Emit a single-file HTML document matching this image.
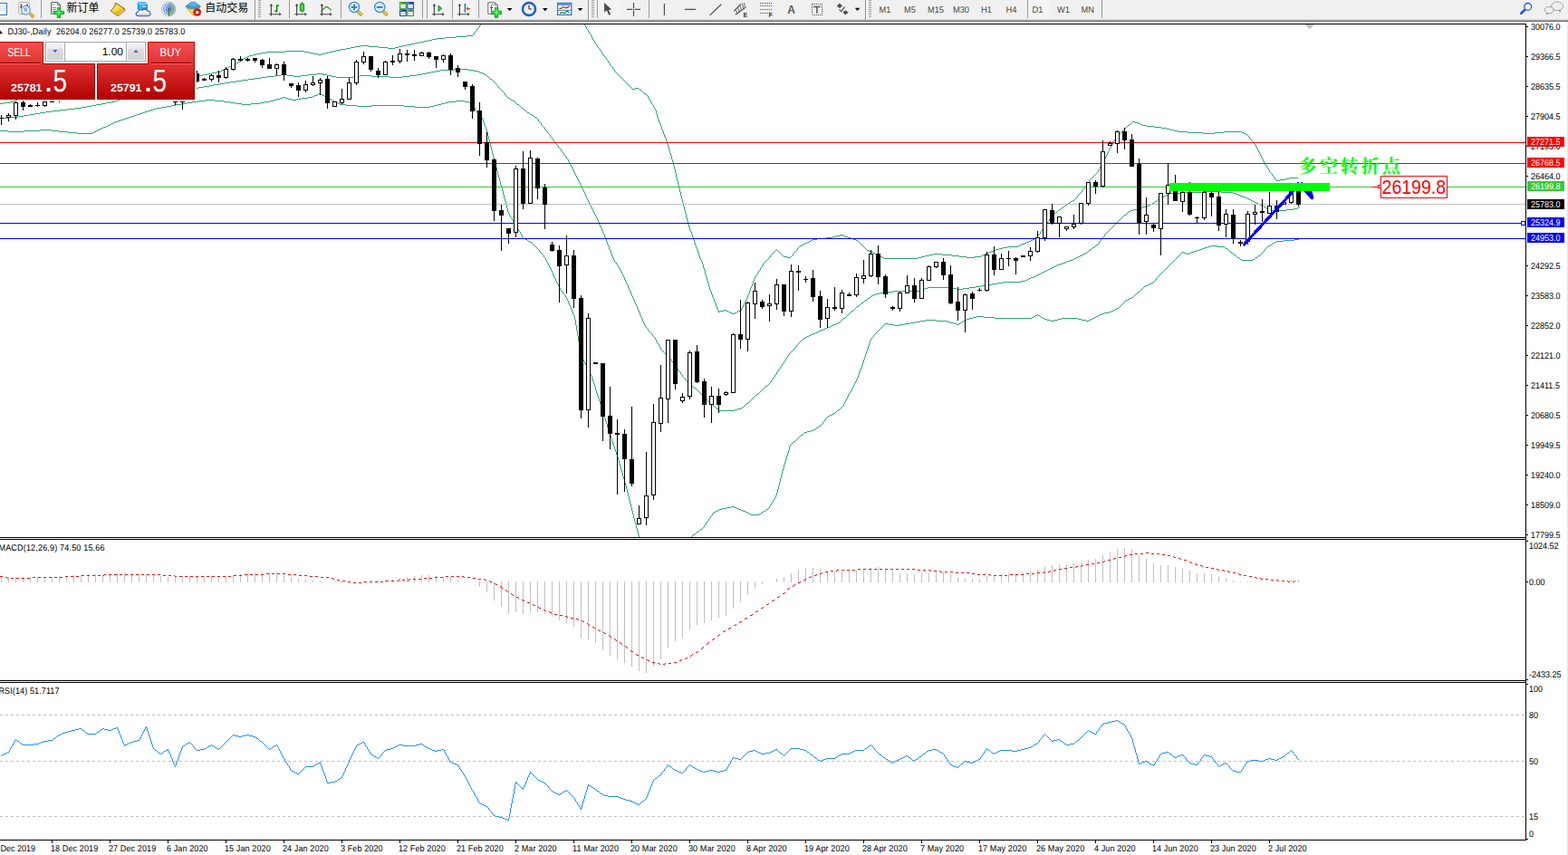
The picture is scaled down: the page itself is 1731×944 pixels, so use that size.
<!DOCTYPE html>
<html><head><meta charset="utf-8"><title>DJ30 Daily</title>
<style>html,body{margin:0;padding:0;background:#fff;overflow:hidden}svg{display:block}text{font-family:"Liberation Sans",sans-serif}</style>
</head><body>
<svg width="1731" height="944" viewBox="0 0 1731 944">
<defs>
<clipPath id="cm"><rect x="0" y="27" width="1684" height="566"/></clipPath>
<clipPath id="belowbar"><rect x="1400" y="211" width="100" height="40"/></clipPath>
<linearGradient id="gbtn" x1="0" y1="0" x2="0" y2="1"><stop offset="0" stop-color="#f85252"/><stop offset="1" stop-color="#de3232"/></linearGradient>
<linearGradient id="gprice" x1="0" y1="0" x2="0" y2="1"><stop offset="0" stop-color="#e23434"/><stop offset="1" stop-color="#b00000"/></linearGradient>
<linearGradient id="gspin" x1="0" y1="0" x2="0" y2="1"><stop offset="0" stop-color="#f4f4f4"/><stop offset="0.3" stop-color="#ebebeb"/><stop offset="0.34" stop-color="#dddddd"/><stop offset="1" stop-color="#d2d2d2"/></linearGradient>
</defs>
<rect x="0" y="0" width="1731" height="944" fill="#fff"/>

<g shape-rendering="crispEdges"><rect x="0" y="26" width="1685" height="1" fill="#000" /><rect x="1684" y="26" width="1" height="902" fill="#000" /><rect x="0" y="593" width="1685" height="1" fill="#000" /><rect x="0" y="595" width="1685" height="1" fill="#000" /><rect x="0" y="751" width="1685" height="1" fill="#000" /><rect x="0" y="753" width="1685" height="1" fill="#000" /><rect x="0" y="927" width="1685" height="1" fill="#000" /><g clip-path="url(#cm)"><path d="M468 45h5v1h-5zM865 283h4v1h-4zM972 283h2v1h-2zM1017 283h4v1h-4zM1059 283h8v1h-8zM1076 283h7v1h-7zM976 285h37v1h-37zM515 39h7v1h-7zM1375 148h2v1h-2zM887 269h2v1h-2zM1128 269h3v1h-3zM315 56h21v1h-21zM367 56h4v1h-4zM294 57h21v1h-21zM336 57h5v1h-5zM363 57h4v1h-4zM961 278h3v1h-3zM1092 278h2v1h-2zM387 52h5v1h-5zM418 52h10v1h-10zM436 52h4v1h-4zM883 271h2v1h-2zM1124 271h2v1h-2zM473 44h4v1h-4zM968 281h2v1h-2zM1026 281h4v1h-4zM1040 281h11v1h-11zM1085 281h2v1h-2zM1112 272h12v1h-12zM701 97h4v1h-4zM279 60h4v1h-4zM351 60h4v1h-4zM382 53h5v1h-5zM428 53h8v1h-8zM1311 146h17v1h-17zM1341 146h10v1h-10zM1371 146h2v1h-2zM458 47h5v1h-5zM263 68h2v1h-2zM806 345h2v1h-2zM811 345h2v1h-2zM1300 145h11v1h-11zM1351 145h20v1h-20zM11 112h4v1h-4zM229 81h5v1h-5zM482 42h9v1h-9zM1292 143h4v1h-4zM970 282h2v1h-2zM1021 282h5v1h-5zM1051 282h8v1h-8zM1083 282h2v1h-2zM398 50h9v1h-9zM444 50h5v1h-5zM869 284h4v1h-4zM974 284h2v1h-2zM1013 284h4v1h-4zM1067 284h9v1h-9zM283 59h5v1h-5zM346 59h5v1h-5zM355 59h4v1h-4zM275 61h4v1h-4zM1274 140h8v1h-8zM966 280h2v1h-2zM1030 280h10v1h-10zM1087 280h3v1h-3zM897 264h5v1h-5zM942 264h3v1h-3zM1140 264h2v1h-2zM919 261h4v1h-4zM933 261h3v1h-3zM1099 275h4v1h-4zM491 41h12v1h-12zM1176 226h2v1h-2zM912 262h7v1h-7zM936 262h3v1h-3zM251 74h2v1h-2zM1328 147h13v1h-13zM1373 147h2v1h-2zM17 110h2v1h-2zM1423 196h10v1h-10zM1419 197h4v1h-4zM269 64h2v1h-2zM793 344h2v1h-2zM804 344h2v1h-2zM813 344h2v1h-2zM1253 135h4v1h-4zM891 267h2v1h-2zM1133 267h3v1h-3zM895 265h2v1h-2zM945 265h2v1h-2zM1138 265h2v1h-2zM1266 139h8v1h-8zM1107 273h5v1h-5zM371 55h5v1h-5zM957 276h2v1h-2zM1097 276h2v1h-2zM288 58h6v1h-6zM341 58h5v1h-5zM359 58h4v1h-4zM219 83h5v1h-5zM245 77h2v1h-2zM239 79h4v1h-4zM1250 134h3v1h-3zM266 66h2v1h-2zM711 103h2v1h-2zM255 72h2v1h-2zM795 343h4v1h-4zM802 343h2v1h-2zM815 343h2v1h-2zM1184 221h2v1h-2zM923 260h4v1h-4zM931 260h2v1h-2zM902 263h10v1h-10zM939 263h3v1h-3zM1142 263h2v1h-2zM1409 199h4v1h-4zM503 40h12v1h-12zM1413 198h6v1h-6zM964 279h2v1h-2zM1090 279h2v1h-2zM1182 222h2v1h-2zM959 277h2v1h-2zM1094 277h3v1h-3zM1257 136h2v1h-2zM1296 144h4v1h-4zM477 43h5v1h-5zM249 75h2v1h-2zM449 49h5v1h-5zM261 69h2v1h-2zM893 266h2v1h-2zM1136 266h2v1h-2zM214 84h5v1h-5zM392 51h6v1h-6zM407 51h11v1h-11zM440 51h4v1h-4zM885 270h2v1h-2zM1126 270h2v1h-2zM1165 234h2v1h-2zM808 346h3v1h-3zM799 342h3v1h-3zM817 342h2v1h-2zM463 46h5v1h-5zM0 114h4v1h-4zM706 99h2v1h-2zM271 63h2v1h-2zM454 48h4v1h-4zM698 98h3v1h-3zM4 113h7v1h-7zM257 71h2v1h-2zM259 70h2v1h-2zM1282 141h6v1h-6zM1172 229h2v1h-2zM927 259h4v1h-4zM889 268h2v1h-2zM1131 268h2v1h-2zM247 76h2v1h-2zM15 111h2v1h-2zM224 82h5v1h-5zM1288 142h4v1h-4zM1103 274h4v1h-4zM253 73h2v1h-2zM376 54h6v1h-6zM234 80h5v1h-5zM1179 224h2v1h-2zM1245 138h2v1h-2zM1261 138h5v1h-5zM273 62h2v1h-2zM1169 231h2v1h-2zM243 78h2v1h-2zM1259 137h2v1h-2zM737 159h1v3h-1zM1226 161h1v2h-1zM1386 160h1v2h-1zM656 45h1v2h-1zM772 282h1v3h-1zM850 282h1v2h-1zM873 283h1v1h-1zM773 285h1v2h-1zM848 285h1v1h-1zM652 38h1v2h-1zM733 148h1v3h-1zM1235 148h1v1h-1zM767 268h1v3h-1zM950 269h1v1h-1zM778 299h1v4h-1zM837 299h1v2h-1zM663 56h1v1h-1zM664 57h1v2h-1zM770 276h1v3h-1zM854 278h1v1h-1zM860 278h1v1h-1zM877 278h1v1h-1zM761 251h1v3h-1zM1151 252h1v1h-1zM755 228h1v4h-1zM1171 230h1v1h-1zM660 52h1v1h-1zM768 271h1v3h-1zM952 271h1v1h-1zM655 44h1v1h-1zM771 279h1v3h-1zM851 281h1v1h-1zM863 281h1v1h-1zM875 280h1v2h-1zM882 272h1v1h-1zM953 272h1v1h-1zM750 208h1v4h-1zM1195 209h1v1h-1zM697 97h1v1h-1zM734 151h1v2h-1zM1233 151h1v1h-1zM1379 151h1v2h-1zM666 60h1v2h-1zM685 85h1v1h-1zM661 53h1v1h-1zM732 145h1v3h-1zM1237 146h1v1h-1zM715 106h1v2h-1zM757 236h1v4h-1zM1162 237h1v2h-1zM657 47h1v2h-1zM786 325h1v3h-1zM826 324h1v2h-1zM671 67h1v2h-1zM1238 145h1v1h-1zM743 179h1v4h-1zM1216 180h1v2h-1zM1396 180h1v2h-1zM718 111h1v2h-1zM745 187h1v4h-1zM1213 186h1v2h-1zM1400 186h1v2h-1zM681 81h1v1h-1zM654 42h1v2h-1zM746 191h1v5h-1zM1208 193h1v1h-1zM1404 192h1v2h-1zM731 143h1v2h-1zM1240 143h1v1h-1zM864 282h1v1h-1zM874 282h1v1h-1zM659 50h1v2h-1zM849 284h1v1h-1zM665 59h1v1h-1zM760 248h1v3h-1zM1153 249h1v2h-1zM782 313h1v4h-1zM830 313h1v3h-1zM783 317h1v3h-1zM829 316h1v2h-1zM730 140h1v3h-1zM1243 140h1v1h-1zM852 280h1v1h-1zM862 280h1v1h-1zM765 262h1v3h-1zM739 166h1v3h-1zM1223 167h1v2h-1zM1389 166h1v2h-1zM764 259h1v3h-1zM1145 260h1v2h-1zM769 274h1v2h-1zM857 275h1v1h-1zM880 274h1v2h-1zM956 275h1v1h-1zM724 122h1v3h-1zM741 172h1v4h-1zM1220 173h1v2h-1zM1392 172h1v2h-1zM742 176h1v3h-1zM1218 177h1v1h-1zM1394 176h1v2h-1zM653 40h1v2h-1zM787 328h1v2h-1zM825 326h1v3h-1zM847 286h1v1h-1zM756 232h1v4h-1zM1167 233h1v1h-1zM754 224h1v4h-1zM1144 262h1v1h-1zM676 74h1v2h-1zM1236 147h1v1h-1zM735 153h1v3h-1zM1231 153h1v1h-1zM1380 153h1v1h-1zM713 104h1v1h-1zM1230 154h1v2h-1zM1381 154h1v1h-1zM749 204h1v4h-1zM1197 206h1v2h-1zM714 105h1v1h-1zM752 216h1v4h-1zM1189 216h1v2h-1zM717 110h1v1h-1zM747 196h1v4h-1zM1205 196h1v1h-1zM1407 196h1v2h-1zM1204 197h1v1h-1zM687 87h1v1h-1zM669 64h1v2h-1zM1232 152h1v1h-1zM688 88h1v1h-1zM728 135h1v2h-1zM1249 135h1v1h-1zM766 265h1v3h-1zM948 267h1v1h-1zM1211 190h1v1h-1zM1402 190h1v1h-1zM776 292h1v4h-1zM841 293h1v2h-1zM729 137h1v3h-1zM1244 139h1v1h-1zM779 303h1v3h-1zM834 304h1v2h-1zM751 212h1v4h-1zM1192 213h1v1h-1zM709 101h1v1h-1zM693 93h1v1h-1zM723 120h1v2h-1zM740 169h1v3h-1zM1221 171h1v2h-1zM1391 170h1v2h-1zM1219 175h1v2h-1zM1161 239h1v1h-1zM881 273h1v1h-1zM954 273h1v1h-1zM759 244h1v4h-1zM1156 245h1v1h-1zM662 54h1v2h-1zM856 276h1v1h-1zM858 276h1v1h-1zM879 276h1v1h-1zM1196 208h1v1h-1zM683 83h1v1h-1zM1390 168h1v2h-1zM1168 232h1v1h-1zM678 77h1v2h-1zM736 156h1v3h-1zM1229 156h1v1h-1zM1383 156h1v1h-1zM785 322h1v3h-1zM679 79h1v1h-1zM1215 182h1v2h-1zM1397 182h1v1h-1zM744 183h1v4h-1zM789 333h1v2h-1zM822 333h1v2h-1zM727 132h1v3h-1zM1209 192h1v1h-1zM788 330h1v3h-1zM823 331h1v2h-1zM1155 246h1v2h-1zM524 35h1v1h-1zM650 35h1v2h-1zM775 289h1v3h-1zM842 291h1v2h-1zM1154 248h1v1h-1zM1234 149h1v2h-1zM1378 150h1v1h-1zM836 301h1v2h-1zM1224 165h1v2h-1zM670 66h1v1h-1zM1222 169h1v2h-1zM1194 210h1v2h-1zM265 67h1v1h-1zM674 72h1v1h-1zM696 96h1v1h-1zM793 343h1v1h-1zM753 220h1v4h-1zM1202 199h1v2h-1zM780 306h1v4h-1zM833 306h1v2h-1zM1174 228h1v1h-1zM530 27h1v1h-1zM645 27h1v1h-1zM526 32h1v2h-1zM648 32h1v1h-1zM1206 195h1v1h-1zM1406 195h1v1h-1zM1198 205h1v1h-1zM792 341h1v2h-1zM818 341h1v1h-1zM1227 159h1v2h-1zM1385 159h1v1h-1zM828 318h1v3h-1zM784 320h1v2h-1zM1203 198h1v1h-1zM1408 198h1v1h-1zM853 279h1v1h-1zM861 279h1v1h-1zM876 279h1v1h-1zM748 200h1v4h-1zM725 125h1v4h-1zM855 277h1v1h-1zM859 277h1v1h-1zM878 277h1v1h-1zM1217 178h1v2h-1zM1395 178h1v2h-1zM1212 188h1v2h-1zM1401 188h1v2h-1zM1164 235h1v1h-1zM1248 136h1v1h-1zM1239 144h1v1h-1zM790 335h1v3h-1zM821 335h1v2h-1zM658 49h1v1h-1zM672 69h1v1h-1zM1187 219h1v1h-1zM529 28h1v2h-1zM646 28h1v2h-1zM947 266h1v1h-1zM528 30h1v1h-1zM647 30h1v2h-1zM1191 214h1v1h-1zM684 84h1v1h-1zM951 270h1v1h-1zM738 162h1v4h-1zM1387 162h1v2h-1zM758 240h1v4h-1zM1160 240h1v1h-1zM1163 236h1v1h-1zM843 290h1v1h-1zM719 113h1v2h-1zM763 256h1v3h-1zM1148 256h1v2h-1zM1186 220h1v1h-1zM19 109h1v1h-1zM716 108h1v2h-1zM1207 194h1v1h-1zM1405 194h1v1h-1zM523 36h1v2h-1zM1175 227h1v1h-1zM781 310h1v3h-1zM831 310h1v3h-1zM1228 157h1v2h-1zM1384 157h1v2h-1zM668 63h1v1h-1zM692 92h1v1h-1zM1393 174h1v2h-1zM1181 223h1v1h-1zM1190 215h1v1h-1zM705 98h1v1h-1zM1201 201h1v1h-1zM840 295h1v1h-1zM1382 155h1v1h-1zM1150 253h1v2h-1zM268 65h1v1h-1zM694 94h1v1h-1zM695 95h1v1h-1zM1200 202h1v2h-1zM673 70h1v2h-1zM1388 164h1v2h-1zM1398 183h1v2h-1zM1242 141h1v1h-1zM1146 259h1v1h-1zM949 268h1v1h-1zM525 34h1v1h-1zM649 33h1v2h-1zM677 76h1v1h-1zM827 321h1v3h-1zM1210 191h1v1h-1zM1403 191h1v1h-1zM682 82h1v1h-1zM1241 142h1v1h-1zM527 31h1v1h-1zM651 37h1v1h-1zM955 274h1v1h-1zM762 254h1v2h-1zM1149 255h1v1h-1zM1225 163h1v2h-1zM832 308h1v2h-1zM1188 218h1v1h-1zM690 90h1v1h-1zM1193 212h1v1h-1zM675 73h1v1h-1zM1214 184h1v2h-1zM1399 185h1v1h-1zM1152 251h1v1h-1zM1178 225h1v1h-1zM680 80h1v1h-1zM722 118h1v2h-1zM1159 241h1v1h-1zM791 338h1v3h-1zM819 339h1v2h-1zM777 296h1v3h-1zM839 296h1v2h-1zM667 62h1v1h-1zM1158 242h1v2h-1zM522 38h1v1h-1zM720 115h1v1h-1zM824 329h1v2h-1zM1377 149h1v1h-1zM726 129h1v3h-1zM820 337h1v2h-1zM774 287h1v2h-1zM846 287h1v1h-1zM686 86h1v1h-1zM1199 204h1v1h-1zM708 100h1v1h-1zM835 303h1v1h-1zM838 298h1v1h-1zM845 288h1v1h-1zM1147 258h1v1h-1zM721 116h1v2h-1zM1247 137h1v1h-1zM844 289h1v1h-1zM689 89h1v1h-1zM710 102h1v1h-1zM691 91h1v1h-1zM1157 244h1v1h-1z" fill="#2aa866"/><path d="M1261 228h4v1h-4zM1395 228h2v1h-2zM1134 308h2v1h-2zM1306 212h22v1h-22zM1348 212h13v1h-13zM0 130h9v1h-9zM1184 286h2v1h-2zM1251 231h4v1h-4zM1400 231h2v1h-2zM1420 231h8v1h-8zM1107 311h20v1h-20zM986 321h30v1h-30zM74 120h9v1h-9zM577 120h2v1h-2zM1077 316h6v1h-6zM288 85h7v1h-7zM371 85h19v1h-19zM430 85h14v1h-14zM1289 214h2v1h-2zM1364 214h3v1h-3zM486 77h15v1h-15zM517 77h6v1h-6zM955 331h2v1h-2zM904 365h2v1h-2zM303 83h7v1h-7zM317 83h7v1h-7zM332 83h8v1h-8zM361 83h5v1h-5zM397 83h13v1h-13zM452 83h8v1h-8zM96 117h5v1h-5zM476 79h5v1h-5zM528 79h2v1h-2zM310 82h7v1h-7zM340 82h9v1h-9zM356 82h5v1h-5zM460 82h6v1h-6zM535 82h2v1h-2zM1255 230h3v1h-3zM1398 230h2v1h-2zM1428 230h4v1h-4zM90 118h6v1h-6zM471 80h5v1h-5zM530 80h3v1h-3zM1165 293h2v1h-2zM295 84h8v1h-8zM324 84h8v1h-8zM366 84h5v1h-5zM390 84h7v1h-7zM410 84h20v1h-20zM444 84h8v1h-8zM1210 270h2v1h-2zM112 114h5v1h-5zM219 96h6v1h-6zM254 90h7v1h-7zM32 126h6v1h-6zM585 126h2v1h-2zM1176 289h2v1h-2zM1248 232h3v1h-3zM1402 232h18v1h-18zM101 116h5v1h-5zM1170 291h3v1h-3zM1258 229h3v1h-3zM1432 229h2v1h-2zM1198 279h2v1h-2zM242 92h6v1h-6zM845 426h2v1h-2zM127 111h3v1h-3zM566 111h2v1h-2zM1019 319h2v1h-2zM1056 319h7v1h-7zM975 322h11v1h-11zM83 119h7v1h-7zM925 356h2v1h-2zM1095 313h6v1h-6zM1275 222h2v1h-2zM1383 222h2v1h-2zM818 450h2v1h-2zM895 369h2v1h-2zM964 325h3v1h-3zM891 371h2v1h-2zM794 453h17v1h-17zM911 362h2v1h-2zM1272 224h2v1h-2zM1387 224h2v1h-2zM1143 304h2v1h-2zM231 94h5v1h-5zM225 95h6v1h-6zM1328 211h20v1h-20zM1385 223h2v1h-2zM1163 294h2v1h-2zM1280 219h2v1h-2zM1377 219h2v1h-2zM1159 296h2v1h-2zM481 78h5v1h-5zM523 78h5v1h-5zM50 123h7v1h-7zM1101 312h6v1h-6zM940 343h2v1h-2zM766 428h2v1h-2zM1202 276h2v1h-2zM824 445h2v1h-2zM1021 318h3v1h-3zM1050 318h6v1h-6zM1063 318h7v1h-7zM1375 218h2v1h-2zM1278 220h2v1h-2zM1379 220h2v1h-2zM1181 287h3v1h-3zM734 390h2v1h-2zM1151 300h2v1h-2zM1291 213h15v1h-15zM1361 213h3v1h-3zM281 86h7v1h-7zM1265 227h3v1h-3zM1393 227h2v1h-2zM1024 317h26v1h-26zM1070 317h7v1h-7zM971 323h4v1h-4zM1083 315h6v1h-6zM38 125h6v1h-6zM1132 309h2v1h-2zM962 326h2v1h-2zM26 127h6v1h-6zM587 127h2v1h-2zM1285 216h2v1h-2zM1369 216h3v1h-3zM1283 217h2v1h-2zM1372 217h3v1h-3zM1268 226h2v1h-2zM1391 226h2v1h-2zM20 128h6v1h-6zM57 122h9v1h-9zM1089 314h6v1h-6zM791 451h2v1h-2zM814 451h4v1h-4zM44 124h6v1h-6zM582 124h2v1h-2zM1016 320h3v1h-3zM920 358h3v1h-3zM501 76h16v1h-16zM1145 303h2v1h-2zM1141 305h2v1h-2zM1194 281h2v1h-2zM349 81h7v1h-7zM466 81h5v1h-5zM533 81h2v1h-2zM267 88h7v1h-7zM1190 283h2v1h-2zM261 89h6v1h-6zM913 361h3v1h-3zM66 121h8v1h-8zM1270 225h2v1h-2zM1389 225h2v1h-2zM248 91h6v1h-6zM916 360h2v1h-2zM106 115h6v1h-6zM571 115h2v1h-2zM215 97h4v1h-4zM1381 221h2v1h-2zM123 112h4v1h-4zM1153 299h2v1h-2zM1173 290h3v1h-3zM1167 292h3v1h-3zM236 93h6v1h-6zM9 129h11v1h-11zM590 129h2v1h-2zM923 357h2v1h-2zM1161 295h2v1h-2zM1246 233h2v1h-2zM893 370h2v1h-2zM909 363h2v1h-2zM1206 273h2v1h-2zM931 351h2v1h-2zM1287 215h2v1h-2zM1367 215h2v1h-2zM1241 237h2v1h-2zM760 423h2v1h-2zM1155 298h2v1h-2zM902 366h2v1h-2zM946 338h2v1h-2zM1127 310h5v1h-5zM1178 288h3v1h-3zM967 324h4v1h-4zM918 359h2v1h-2zM835 435h2v1h-2zM951 334h2v1h-2zM897 368h3v1h-3zM889 372h2v1h-2zM811 452h3v1h-3zM1196 280h2v1h-2zM274 87h7v1h-7zM541 87h2v1h-2zM1192 282h2v1h-2zM1188 284h2v1h-2zM130 110h2v1h-2zM564 110h2v1h-2zM1149 301h2v1h-2zM958 329h2v1h-2zM561 108h2v1h-2zM117 113h6v1h-6zM1138 306h3v1h-3zM906 364h3v1h-3zM1147 302h2v1h-2zM785 446h2v1h-2zM900 367h2v1h-2zM1186 285h2v1h-2zM1136 307h2v1h-2zM1157 297h2v1h-2zM887 373h2v1h-2zM652 227h1v2h-1zM1434 228h1v1h-1zM689 306h1v3h-1zM645 212h1v2h-1zM592 130h1v1h-1zM703 338h1v3h-1zM944 340h1v1h-1zM677 285h1v2h-1zM654 231h1v2h-1zM691 311h1v2h-1zM695 320h1v2h-1zM724 375h1v2h-1zM885 375h1v1h-1zM693 315h1v3h-1zM539 85h1v1h-1zM643 208h1v2h-1zM646 214h1v3h-1zM700 331h1v3h-1zM716 365h1v1h-1zM537 83h1v1h-1zM574 117h1v1h-1zM603 144h1v1h-1zM746 404h1v2h-1zM862 404h1v1h-1zM769 430h1v1h-1zM841 430h1v1h-1zM653 229h1v2h-1zM575 118h1v1h-1zM614 159h1v1h-1zM682 293h1v2h-1zM538 84h1v1h-1zM628 178h1v2h-1zM671 270h1v2h-1zM772 433h1v1h-1zM838 433h1v1h-1zM570 114h1v1h-1zM550 95h1v2h-1zM661 245h1v3h-1zM1231 247h1v1h-1zM755 417h1v1h-1zM853 417h1v2h-1zM545 90h1v1h-1zM740 396h1v1h-1zM867 396h1v2h-1zM639 200h1v2h-1zM679 289h1v1h-1zM665 255h1v2h-1zM1222 256h1v1h-1zM636 194h1v2h-1zM754 416h1v1h-1zM854 416h1v1h-1zM573 116h1v1h-1zM680 290h1v2h-1zM1397 229h1v1h-1zM674 277h1v3h-1zM547 92h1v1h-1zM764 426h1v1h-1zM694 318h1v2h-1zM696 322h1v3h-1zM576 119h1v1h-1zM710 355h1v2h-1zM692 313h1v2h-1zM649 221h1v2h-1zM790 450h1v1h-1zM720 369h1v2h-1zM662 248h1v2h-1zM1229 249h1v1h-1zM697 325h1v2h-1zM721 371h1v1h-1zM698 327h1v2h-1zM961 327h1v1h-1zM664 252h1v3h-1zM1226 252h1v1h-1zM714 362h1v1h-1zM650 223h1v2h-1zM688 304h1v2h-1zM549 94h1v1h-1zM601 141h1v2h-1zM709 352h1v3h-1zM930 352h1v1h-1zM644 210h1v2h-1zM929 353h1v1h-1zM1274 223h1v1h-1zM789 449h1v1h-1zM820 449h1v1h-1zM648 219h1v2h-1zM684 296h1v2h-1zM616 161h1v2h-1zM581 123h1v1h-1zM1233 245h1v1h-1zM620 167h1v1h-1zM663 250h1v2h-1zM1228 250h1v1h-1zM705 343h1v2h-1zM637 196h1v2h-1zM742 399h1v1h-1zM865 399h1v2h-1zM739 394h1v2h-1zM868 395h1v1h-1zM638 198h1v2h-1zM756 418h1v2h-1zM852 419h1v1h-1zM843 428h1v1h-1zM673 275h1v2h-1zM768 429h1v1h-1zM842 429h1v1h-1zM727 380h1v2h-1zM879 381h1v2h-1zM784 445h1v1h-1zM702 336h1v2h-1zM948 337h1v1h-1zM731 387h1v1h-1zM874 387h1v1h-1zM647 217h1v2h-1zM1282 218h1v1h-1zM678 287h1v2h-1zM871 390h1v2h-1zM778 439h1v1h-1zM831 439h1v1h-1zM686 300h1v2h-1zM1204 275h1v1h-1zM723 373h1v2h-1zM886 374h1v1h-1zM540 86h1v1h-1zM741 397h1v2h-1zM763 425h1v1h-1zM847 425h1v1h-1zM728 382h1v2h-1zM878 383h1v1h-1zM618 164h1v1h-1zM750 410h1v1h-1zM858 410h1v1h-1zM622 169h1v2h-1zM1232 246h1v1h-1zM584 125h1v1h-1zM690 309h1v2h-1zM668 262h1v2h-1zM1216 263h1v1h-1zM748 407h1v2h-1zM859 408h1v2h-1zM758 421h1v1h-1zM851 420h1v2h-1zM954 332h1v1h-1zM759 422h1v1h-1zM850 422h1v1h-1zM770 431h1v1h-1zM840 431h1v1h-1zM651 225h1v2h-1zM589 128h1v1h-1zM704 341h1v2h-1zM942 342h1v1h-1zM580 122h1v1h-1zM669 264h1v3h-1zM1215 264h1v2h-1zM660 243h1v2h-1zM1235 243h1v1h-1zM711 357h1v2h-1zM751 411h1v2h-1zM857 411h1v2h-1zM725 377h1v2h-1zM882 378h1v1h-1zM632 186h1v2h-1zM726 379h1v1h-1zM881 379h1v1h-1zM729 384h1v2h-1zM877 384h1v1h-1zM776 437h1v1h-1zM833 437h1v1h-1zM687 302h1v2h-1zM765 427h1v1h-1zM844 427h1v1h-1zM554 100h1v1h-1zM675 280h1v3h-1zM543 88h1v1h-1zM676 283h1v2h-1zM544 89h1v1h-1zM713 361h1v1h-1zM579 121h1v1h-1zM706 345h1v3h-1zM938 345h1v1h-1zM939 344h1v1h-1zM546 91h1v1h-1zM712 359h1v2h-1zM656 235h1v2h-1zM1243 236h1v1h-1zM630 182h1v2h-1zM631 184h1v2h-1zM777 438h1v1h-1zM832 438h1v1h-1zM551 97h1v1h-1zM1201 277h1v1h-1zM641 204h1v2h-1zM745 403h1v1h-1zM863 402h1v2h-1zM1277 221h1v1h-1zM771 432h1v1h-1zM839 432h1v1h-1zM568 112h1v1h-1zM685 298h1v2h-1zM1209 271h1v1h-1zM860 407h1v1h-1zM866 398h1v1h-1zM666 257h1v2h-1zM1220 258h1v1h-1zM681 292h1v1h-1zM943 341h1v1h-1zM548 93h1v1h-1zM600 140h1v1h-1zM563 109h1v1h-1zM604 145h1v2h-1zM683 295h1v1h-1zM655 233h1v2h-1zM715 363h1v2h-1zM672 272h1v3h-1zM1227 251h1v1h-1zM640 202h1v2h-1zM708 350h1v2h-1zM667 259h1v3h-1zM1219 259h1v2h-1zM558 105h1v1h-1zM559 106h1v1h-1zM1214 266h1v1h-1zM1234 244h1v1h-1zM657 237h1v2h-1zM849 423h1v1h-1zM773 434h1v1h-1zM837 434h1v1h-1zM602 143h1v1h-1zM658 239h1v2h-1zM1238 240h1v1h-1zM1244 235h1v1h-1zM617 163h1v1h-1zM717 366h1v1h-1zM733 389h1v1h-1zM872 389h1v1h-1zM1245 234h1v1h-1zM937 346h1v1h-1zM670 267h1v3h-1zM1213 267h1v2h-1zM884 376h1v1h-1zM699 329h1v2h-1zM957 330h1v1h-1zM936 347h1v1h-1zM736 391h1v1h-1zM634 190h1v2h-1zM1200 278h1v1h-1zM774 435h1v1h-1zM1221 257h1v1h-1zM775 436h1v1h-1zM834 436h1v1h-1zM214 98h1v1h-1zM552 98h1v1h-1zM701 334h1v2h-1zM553 99h1v1h-1zM608 151h1v1h-1zM619 165h1v2h-1zM719 368h1v1h-1zM722 372h1v1h-1zM753 414h1v2h-1zM855 414h1v2h-1zM1230 248h1v1h-1zM793 452h1v1h-1zM1208 272h1v1h-1zM744 402h1v1h-1zM960 328h1v1h-1zM781 442h1v1h-1zM828 442h1v1h-1zM1240 238h1v1h-1zM876 385h1v1h-1zM633 188h1v2h-1zM788 448h1v1h-1zM821 448h1v1h-1zM606 148h1v1h-1zM610 153h1v2h-1zM621 168h1v1h-1zM625 173h1v2h-1zM861 405h1v2h-1zM747 406h1v1h-1zM779 440h1v1h-1zM830 440h1v1h-1zM783 444h1v1h-1zM826 444h1v1h-1zM598 138h1v1h-1zM945 339h1v1h-1zM569 113h1v1h-1zM883 377h1v1h-1zM1212 269h1v1h-1zM642 206h1v2h-1zM953 333h1v1h-1zM557 103h1v2h-1zM627 176h1v2h-1zM757 420h1v1h-1zM1205 274h1v1h-1zM1239 239h1v1h-1zM1223 255h1v1h-1zM950 335h1v1h-1zM555 101h1v1h-1zM823 446h1v1h-1zM928 354h1v1h-1zM707 348h1v2h-1zM935 348h1v1h-1zM718 367h1v1h-1zM1225 253h1v1h-1zM738 393h1v1h-1zM869 393h1v2h-1zM780 441h1v1h-1zM829 441h1v1h-1zM743 400h1v2h-1zM752 413h1v1h-1zM856 413h1v1h-1zM635 192h1v2h-1zM594 132h1v2h-1zM605 147h1v1h-1zM1224 254h1v1h-1zM782 443h1v1h-1zM827 443h1v1h-1zM560 107h1v1h-1zM933 350h1v1h-1zM596 135h1v1h-1zM787 447h1v1h-1zM822 447h1v1h-1zM607 149h1v2h-1zM611 155h1v1h-1zM737 392h1v1h-1zM870 392h1v1h-1zM732 388h1v1h-1zM873 388h1v1h-1zM864 401h1v1h-1zM609 152h1v1h-1zM949 336h1v1h-1zM613 157h1v2h-1zM623 171h1v1h-1zM624 172h1v1h-1zM749 409h1v1h-1zM762 424h1v1h-1zM848 424h1v1h-1zM1217 262h1v1h-1zM659 241h1v2h-1zM1237 241h1v1h-1zM730 386h1v1h-1zM875 386h1v1h-1zM615 160h1v1h-1zM626 175h1v1h-1zM629 180h1v2h-1zM927 355h1v1h-1zM934 349h1v1h-1zM595 134h1v1h-1zM1236 242h1v1h-1zM593 131h1v1h-1zM597 136h1v2h-1zM1218 261h1v1h-1zM599 139h1v1h-1zM880 380h1v1h-1zM612 156h1v1h-1zM556 102h1v1h-1z" fill="#2aa866"/><path d="M1271 312h2v1h-2zM189 116h5v1h-5zM382 116h12v1h-12zM410 116h36v1h-36zM479 116h4v1h-4zM1330 273h3v1h-3zM212 112h7v1h-7zM247 112h7v1h-7zM292 112h6v1h-6zM369 112h2v1h-2zM495 112h8v1h-8zM513 112h5v1h-5zM1321 276h3v1h-3zM888 477h3v1h-3zM1333 272h3v1h-3zM1344 272h8v1h-8zM219 111h8v1h-8zM237 111h10v1h-10zM298 111h4v1h-4zM367 111h2v1h-2zM503 111h10v1h-10zM765 590h2v1h-2zM309 108h3v1h-3zM315 108h3v1h-3zM333 108h7v1h-7zM362 108h2v1h-2zM139 130h3v1h-3zM1143 348h2v1h-2zM1146 348h2v1h-2zM1212 348h2v1h-2zM136 131h3v1h-3zM1078 349h8v1h-8zM1141 349h2v1h-2zM1210 349h2v1h-2zM200 114h6v1h-6zM260 114h7v1h-7zM277 114h10v1h-10zM373 114h2v1h-2zM487 114h4v1h-4zM1389 282h2v1h-2zM1022 353h12v1h-12zM1065 353h2v1h-2zM1156 353h4v1h-4zM1164 353h4v1h-4zM1194 353h5v1h-5zM1202 353h2v1h-2zM9 145h17v1h-17zM65 145h10v1h-10zM104 145h2v1h-2zM797 561h5v1h-5zM813 561h2v1h-2zM1016 354h6v1h-6zM1034 354h12v1h-12zM1063 354h2v1h-2zM1160 354h4v1h-4zM1199 354h3v1h-3zM227 110h10v1h-10zM302 110h3v1h-3zM322 110h5v1h-5zM184 117h5v1h-5zM394 117h16v1h-16zM446 117h12v1h-12zM475 117h4v1h-4zM773 584h2v1h-2zM1067 352h3v1h-3zM1153 352h3v1h-3zM1168 352h4v1h-4zM1190 352h4v1h-4zM1204 352h2v1h-2zM981 358h6v1h-6zM993 358h6v1h-6zM1056 358h2v1h-2zM925 452h2v1h-2zM1070 351h4v1h-4zM1098 351h41v1h-41zM1151 351h2v1h-2zM1172 351h18v1h-18zM1206 351h2v1h-2zM918 457h2v1h-2zM85 147h17v1h-17zM1369 286h2v1h-2zM1383 286h2v1h-2zM1214 347h2v1h-2zM75 146h10v1h-10zM102 146h2v1h-2zM44 143h13v1h-13zM108 143h2v1h-2zM1336 271h8v1h-8zM1400 271h2v1h-2zM1305 278h2v1h-2zM1315 278h3v1h-3zM1358 278h2v1h-2zM1263 316h2v1h-2zM583 266h2v1h-2zM1409 266h8v1h-8zM194 115h6v1h-6zM267 115h10v1h-10zM375 115h7v1h-7zM483 115h4v1h-4zM802 560h5v1h-5zM811 560h2v1h-2zM127 134h3v1h-3zM1327 274h3v1h-3zM1353 274h2v1h-2zM1231 341h2v1h-2zM788 565h2v1h-2zM823 565h2v1h-2zM841 565h2v1h-2zM829 568h9v1h-9zM1005 356h5v1h-5zM1049 356h4v1h-4zM1060 356h2v1h-2zM1219 345h5v1h-5zM790 564h2v1h-2zM820 564h3v1h-3zM843 564h2v1h-2zM1010 355h6v1h-6zM1046 355h3v1h-3zM891 476h4v1h-4zM1265 315h2v1h-2zM173 119h5v1h-5zM1074 350h4v1h-4zM1086 350h12v1h-12zM1139 350h2v1h-2zM1149 350h2v1h-2zM1208 350h2v1h-2zM1307 279h3v1h-3zM1313 279h2v1h-2zM876 487h2v1h-2zM206 113h6v1h-6zM254 113h6v1h-6zM287 113h5v1h-5zM371 113h2v1h-2zM491 113h4v1h-4zM518 113h3v1h-3zM157 124h3v1h-3zM347 105h3v1h-3zM356 105h2v1h-2zM1371 287h12v1h-12zM1318 277h3v1h-3zM977 357h4v1h-4zM999 357h6v1h-6zM1053 357h3v1h-3zM1058 357h2v1h-2zM987 359h6v1h-6zM169 120h4v1h-4zM160 123h3v1h-3zM121 137h2v1h-2zM148 127h3v1h-3zM117 139h2v1h-2zM807 559h4v1h-4zM114 140h3v1h-3zM1366 284h2v1h-2zM1386 284h2v1h-2zM1256 322h2v1h-2zM0 144h9v1h-9zM26 144h18v1h-18zM57 144h8v1h-8zM106 144h2v1h-2zM827 567h2v1h-2zM838 567h2v1h-2zM792 563h2v1h-2zM818 563h2v1h-2zM1362 281h2v1h-2zM1310 280h3v1h-3zM1417 265h12v1h-12zM305 109h4v1h-4zM318 109h4v1h-4zM327 109h6v1h-6zM364 109h2v1h-2zM1405 268h2v1h-2zM920 456h2v1h-2zM178 118h6v1h-6zM458 118h17v1h-17zM345 106h2v1h-2zM358 106h2v1h-2zM580 264h2v1h-2zM1429 264h5v1h-5zM898 474h2v1h-2zM1245 330h2v1h-2zM825 566h2v1h-2zM794 562h3v1h-3zM815 562h3v1h-3zM846 562h2v1h-2zM133 132h3v1h-3zM1233 340h2v1h-2zM151 126h3v1h-3zM110 142h2v1h-2zM1402 270h2v1h-2zM125 135h2v1h-2zM769 587h2v1h-2zM1324 275h3v1h-3zM1229 342h2v1h-2zM585 267h2v1h-2zM1407 267h2v1h-2zM901 472h2v1h-2zM142 129h3v1h-3zM112 141h2v1h-2zM312 107h3v1h-3zM340 107h5v1h-5zM360 107h2v1h-2zM145 128h3v1h-3zM1269 313h2v1h-2zM166 121h3v1h-3zM1249 328h2v1h-2zM1247 329h2v1h-2zM1243 331h2v1h-2zM904 470h2v1h-2zM352 103h2v1h-2zM123 136h2v1h-2zM130 133h3v1h-3zM350 104h2v1h-2zM354 104h2v1h-2zM895 475h3v1h-3zM1216 346h3v1h-3zM1267 314h2v1h-2zM1227 343h2v1h-2zM163 122h3v1h-3zM154 125h3v1h-3zM578 263h2v1h-2zM884 480h2v1h-2zM119 138h2v1h-2zM916 458h2v1h-2zM1224 344h3v1h-3zM914 459h2v1h-2zM615 312h1v2h-1zM522 116h1v2h-1zM685 515h1v4h-1zM864 517h1v3h-1zM592 273h1v1h-1zM1352 273h1v1h-1zM1398 273h1v1h-1zM595 276h1v2h-1zM1356 276h1v1h-1zM1395 276h1v2h-1zM672 475h1v3h-1zM687 522h1v4h-1zM863 520h1v4h-1zM591 272h1v1h-1zM1399 272h1v1h-1zM704 587h1v4h-1zM546 178h1v3h-1zM641 386h1v3h-1zM957 385h1v3h-1zM688 526h1v3h-1zM862 524h1v4h-1zM532 130h1v2h-1zM618 318h1v2h-1zM1260 319h1v1h-1zM633 347h1v2h-1zM639 377h1v5h-1zM960 376h1v3h-1zM677 490h1v3h-1zM873 490h1v1h-1zM634 349h1v4h-1zM1148 349h1v1h-1zM563 238h1v2h-1zM660 437h1v3h-1zM936 436h1v2h-1zM521 114h1v2h-1zM600 282h1v2h-1zM1301 282h1v1h-1zM1364 282h1v1h-1zM635 353h1v6h-1zM537 143h1v3h-1zM697 560h1v4h-1zM848 561h1v1h-1zM680 499h1v3h-1zM869 500h1v3h-1zM663 446h1v3h-1zM931 446h1v2h-1zM366 110h1v1h-1zM703 583h1v4h-1zM692 540h1v4h-1zM858 540h1v4h-1zM976 358h1v1h-1zM665 452h1v4h-1zM1300 283h1v1h-1zM1365 283h1v1h-1zM1388 283h1v1h-1zM666 456h1v3h-1zM603 287h1v2h-1zM1295 288h1v1h-1zM538 146h1v4h-1zM558 222h1v4h-1zM602 285h1v2h-1zM1297 286h1v1h-1zM1145 347h1v1h-1zM606 293h1v2h-1zM1290 293h1v1h-1zM699 568h1v4h-1zM784 570h1v2h-1zM638 371h1v6h-1zM963 372h1v1h-1zM642 389h1v4h-1zM956 388h1v3h-1zM689 529h1v4h-1zM861 528h1v4h-1zM590 271h1v1h-1zM596 278h1v1h-1zM1394 278h1v1h-1zM617 316h1v2h-1zM551 196h1v4h-1zM849 559h1v2h-1zM662 443h1v3h-1zM932 444h1v2h-1zM693 544h1v4h-1zM857 544h1v3h-1zM630 339h1v3h-1zM1235 339h1v1h-1zM569 248h1v2h-1zM628 335h1v2h-1zM1239 335h1v1h-1zM637 365h1v6h-1zM964 370h1v2h-1zM684 512h1v3h-1zM865 513h1v4h-1zM533 132h1v3h-1zM593 274h1v1h-1zM1397 274h1v1h-1zM573 255h1v1h-1zM698 564h1v4h-1zM609 299h1v2h-1zM1284 299h1v1h-1zM648 405h1v2h-1zM950 406h1v2h-1zM676 487h1v3h-1zM874 489h1v1h-1zM786 567h1v2h-1zM632 344h1v3h-1zM1062 355h1v1h-1zM653 415h1v3h-1zM947 414h1v3h-1zM700 572h1v4h-1zM783 572h1v1h-1zM616 314h1v2h-1zM524 119h1v2h-1zM860 532h1v4h-1zM675 484h1v3h-1zM878 486h1v1h-1zM561 234h1v2h-1zM620 321h1v1h-1zM1258 321h1v1h-1zM597 279h1v1h-1zM1304 279h1v1h-1zM1360 279h1v1h-1zM1393 279h1v1h-1zM658 431h1v3h-1zM938 433h1v1h-1zM961 374h1v2h-1zM562 236h1v2h-1zM968 366h1v1h-1zM640 382h1v4h-1zM958 382h1v3h-1zM565 241h1v2h-1zM674 481h1v3h-1zM881 483h1v1h-1zM527 124h1v1h-1zM647 403h1v2h-1zM951 403h1v3h-1zM554 207h1v4h-1zM696 556h1v4h-1zM850 557h1v2h-1zM1296 287h1v1h-1zM1357 277h1v1h-1zM671 472h1v3h-1zM900 473h1v1h-1zM959 379h1v3h-1zM557 219h1v3h-1zM636 359h1v6h-1zM975 359h1v1h-1zM695 552h1v4h-1zM852 554h1v2h-1zM547 181h1v4h-1zM681 502h1v3h-1zM868 503h1v4h-1zM629 337h1v2h-1zM1237 337h1v1h-1zM550 193h1v3h-1zM690 533h1v3h-1zM571 251h1v2h-1zM526 123h1v1h-1zM610 301h1v3h-1zM1280 303h1v1h-1zM572 253h1v2h-1zM575 258h1v2h-1zM540 154h1v4h-1zM612 306h1v2h-1zM1277 306h1v1h-1zM682 505h1v3h-1zM534 135h1v3h-1zM543 166h1v4h-1zM529 126h1v2h-1zM939 431h1v2h-1zM668 462h1v3h-1zM911 462h1v2h-1zM535 138h1v2h-1zM1261 318h1v1h-1zM654 418h1v3h-1zM945 419h1v2h-1zM560 230h1v4h-1zM705 591h1v2h-1zM763 592h1v1h-1zM622 324h1v1h-1zM1254 324h1v1h-1zM702 579h1v4h-1zM776 582h1v1h-1zM657 427h1v4h-1zM940 429h1v2h-1zM536 140h1v3h-1zM691 536h1v4h-1zM859 536h1v4h-1zM601 284h1v1h-1zM1299 284h1v1h-1zM621 322h1v2h-1zM553 204h1v3h-1zM845 563h1v1h-1zM599 281h1v1h-1zM1302 281h1v1h-1zM1391 281h1v1h-1zM973 361h1v1h-1zM598 280h1v1h-1zM1303 280h1v1h-1zM1361 280h1v1h-1zM1392 280h1v1h-1zM872 491h1v2h-1zM582 265h1v1h-1zM587 268h1v1h-1zM645 399h1v2h-1zM952 400h1v3h-1zM523 118h1v1h-1zM1262 317h1v1h-1zM933 442h1v2h-1zM856 547h1v2h-1zM1298 285h1v1h-1zM1368 285h1v1h-1zM1385 285h1v1h-1zM882 482h1v1h-1zM544 170h1v4h-1zM686 519h1v3h-1zM1238 336h1v1h-1zM771 586h1v1h-1zM656 424h1v3h-1zM943 423h1v2h-1zM669 465h1v3h-1zM908 466h1v2h-1zM626 330h1v2h-1zM787 566h1v1h-1zM840 566h1v1h-1zM942 425h1v2h-1zM670 468h1v4h-1zM907 468h1v1h-1zM1276 307h1v2h-1zM974 360h1v1h-1zM649 407h1v2h-1zM661 440h1v3h-1zM934 440h1v2h-1zM935 438h1v2h-1zM1283 300h1v1h-1zM867 507h1v3h-1zM930 448h1v1h-1zM589 270h1v1h-1zM664 449h1v3h-1zM929 449h1v1h-1zM624 326h1v2h-1zM1252 326h1v1h-1zM594 275h1v1h-1zM1355 275h1v1h-1zM1396 275h1v1h-1zM875 488h1v1h-1zM631 342h1v2h-1zM659 434h1v3h-1zM937 434h1v2h-1zM650 409h1v2h-1zM949 408h1v3h-1zM971 363h1v1h-1zM627 332h1v3h-1zM1240 334h1v1h-1zM969 365h1v1h-1zM777 580h1v2h-1zM644 397h1v2h-1zM953 397h1v3h-1zM955 391h1v3h-1zM574 256h1v2h-1zM588 269h1v1h-1zM1404 269h1v1h-1zM577 262h1v1h-1zM853 552h1v2h-1zM531 129h1v1h-1zM559 226h1v4h-1zM679 496h1v3h-1zM870 497h1v3h-1zM772 585h1v1h-1zM555 211h1v4h-1zM530 128h1v1h-1zM608 297h1v2h-1zM1285 298h1v1h-1zM667 459h1v3h-1zM912 461h1v1h-1zM871 493h1v4h-1zM576 260h1v2h-1zM541 158h1v4h-1zM924 453h1v1h-1zM910 464h1v1h-1zM605 291h1v2h-1zM1292 291h1v1h-1zM651 411h1v2h-1zM948 411h1v3h-1zM966 368h1v1h-1zM1289 294h1v1h-1zM564 240h1v1h-1zM568 246h1v2h-1zM604 289h1v2h-1zM1294 289h1v1h-1zM922 455h1v1h-1zM972 362h1v1h-1zM611 304h1v2h-1zM1278 305h1v1h-1zM782 573h1v2h-1zM970 364h1v1h-1zM525 121h1v2h-1zM764 591h1v1h-1zM539 150h1v4h-1zM683 508h1v4h-1zM678 493h1v3h-1zM927 451h1v1h-1zM962 373h1v1h-1zM556 215h1v4h-1zM625 328h1v2h-1zM549 189h1v4h-1zM1236 338h1v1h-1zM928 450h1v1h-1zM694 548h1v4h-1zM866 510h1v3h-1zM542 162h1v4h-1zM613 308h1v2h-1zM673 478h1v3h-1zM886 479h1v1h-1zM655 421h1v3h-1zM944 421h1v2h-1zM768 588h1v1h-1zM646 401h1v2h-1zM967 367h1v1h-1zM548 185h1v4h-1zM1281 302h1v1h-1zM623 325h1v1h-1zM1253 325h1v1h-1zM1279 304h1v1h-1zM607 295h1v2h-1zM1288 295h1v1h-1zM883 481h1v1h-1zM778 579h1v1h-1zM781 575h1v1h-1zM946 417h1v2h-1zM619 320h1v1h-1zM1259 320h1v1h-1zM643 393h1v4h-1zM954 394h1v3h-1zM879 485h1v1h-1zM913 460h1v1h-1zM701 576h1v3h-1zM779 577h1v2h-1zM887 478h1v1h-1zM566 243h1v2h-1zM552 200h1v4h-1zM855 549h1v2h-1zM941 427h1v2h-1zM545 174h1v4h-1zM923 454h1v1h-1zM909 465h1v1h-1zM965 369h1v1h-1zM1293 290h1v1h-1zM880 484h1v1h-1zM528 125h1v1h-1zM780 576h1v1h-1zM1255 323h1v1h-1zM851 556h1v1h-1zM906 469h1v1h-1zM1275 309h1v1h-1zM614 310h1v2h-1zM1274 310h1v1h-1zM1282 301h1v1h-1zM767 589h1v1h-1zM1286 297h1v1h-1zM1242 332h1v1h-1zM652 413h1v2h-1zM775 583h1v1h-1zM854 551h1v1h-1zM1287 296h1v1h-1zM1291 292h1v1h-1zM1241 333h1v1h-1zM567 245h1v1h-1zM570 250h1v1h-1zM1273 311h1v1h-1zM903 471h1v1h-1zM1251 327h1v1h-1zM785 569h1v1h-1z" fill="#2aa866"/><rect x="0" y="157" width="1684" height="1" fill="#ff0000" /><rect x="0" y="180" width="1684" height="1" fill="#ff0000" /><rect x="0" y="206" width="1684" height="1" fill="#32cd32" /><rect x="0" y="225" width="1684" height="1" fill="#c0c0c0" /><rect x="0" y="246" width="1684" height="1" fill="#0000ff" /><rect x="0" y="263" width="1684" height="1" fill="#0000ff" /><rect x="1" y="127" width="1" height="11" fill="#000" /><rect x="-1" y="130" width="5" height="1" fill="#000" /><rect x="9" y="125" width="1" height="9" fill="#000" /><rect x="7" y="127" width="5" height="3" fill="#000" /><rect x="8" y="128" width="3" height="1" fill="#fff" /><rect x="17" y="112" width="1" height="20" fill="#000" /><rect x="15" y="113" width="5" height="15" fill="#000" /><rect x="16" y="114" width="3" height="13" fill="#fff" /><rect x="25" y="111" width="1" height="11" fill="#000" /><rect x="23" y="113" width="5" height="5" fill="#000" /><rect x="33" y="115" width="1" height="3" fill="#000" /><rect x="31" y="116" width="5" height="2" fill="#000" /><rect x="41" y="113" width="1" height="5" fill="#000" /><rect x="39" y="116" width="5" height="1" fill="#000" /><rect x="49" y="112" width="1" height="6" fill="#000" /><rect x="47" y="112" width="5" height="5" fill="#000" /><rect x="48" y="113" width="3" height="3" fill="#fff" /><rect x="57" y="112" width="1" height="1" fill="#000" /><rect x="55" y="112" width="5" height="1" fill="#000" /><rect x="65" y="112" width="1" height="1" fill="#000" /><rect x="193" y="112" width="1" height="4" fill="#000" /><rect x="191" y="112" width="5" height="1" fill="#000" /><rect x="201" y="112" width="1" height="9" fill="#000" /><rect x="199" y="112" width="5" height="1" fill="#000" /><rect x="217" y="78" width="1" height="13" fill="#000" /><rect x="215" y="81" width="5" height="9" fill="#000" /><rect x="225" y="86" width="1" height="3" fill="#000" /><rect x="223" y="87" width="5" height="2" fill="#000" /><rect x="233" y="82" width="1" height="8" fill="#000" /><rect x="231" y="83" width="5" height="5" fill="#000" /><rect x="232" y="84" width="3" height="3" fill="#fff" /><rect x="241" y="78" width="1" height="13" fill="#000" /><rect x="239" y="83" width="5" height="3" fill="#000" /><rect x="249" y="74" width="1" height="13" fill="#000" /><rect x="247" y="76" width="5" height="10" fill="#000" /><rect x="248" y="77" width="3" height="8" fill="#fff" /><rect x="257" y="64" width="1" height="14" fill="#000" /><rect x="255" y="65" width="5" height="12" fill="#000" /><rect x="256" y="66" width="3" height="10" fill="#fff" /><rect x="265" y="62" width="1" height="6" fill="#000" /><rect x="263" y="65" width="5" height="2" fill="#000" /><rect x="273" y="64" width="1" height="4" fill="#000" /><rect x="271" y="65" width="5" height="2" fill="#000" /><rect x="281" y="64" width="1" height="5" fill="#000" /><rect x="279" y="64" width="5" height="3" fill="#000" /><rect x="289" y="65" width="1" height="10" fill="#000" /><rect x="287" y="66" width="5" height="6" fill="#000" /><rect x="297" y="64" width="1" height="12" fill="#000" /><rect x="295" y="71" width="5" height="5" fill="#000" /><rect x="305" y="70" width="1" height="13" fill="#000" /><rect x="303" y="71" width="5" height="5" fill="#000" /><rect x="304" y="72" width="3" height="3" fill="#fff" /><rect x="313" y="68" width="1" height="21" fill="#000" /><rect x="311" y="71" width="5" height="12" fill="#000" /><rect x="321" y="92" width="1" height="5" fill="#000" /><rect x="319" y="92" width="5" height="3" fill="#000" /><rect x="329" y="91" width="1" height="16" fill="#000" /><rect x="327" y="94" width="5" height="6" fill="#000" /><rect x="337" y="89" width="1" height="13" fill="#000" /><rect x="335" y="93" width="5" height="7" fill="#000" /><rect x="336" y="94" width="3" height="5" fill="#fff" /><rect x="345" y="84" width="1" height="11" fill="#000" /><rect x="343" y="91" width="5" height="3" fill="#000" /><rect x="344" y="92" width="3" height="1" fill="#fff" /><rect x="353" y="86" width="1" height="19" fill="#000" /><rect x="351" y="88" width="5" height="4" fill="#000" /><rect x="352" y="89" width="3" height="2" fill="#fff" /><rect x="361" y="84" width="1" height="36" fill="#000" /><rect x="359" y="87" width="5" height="27" fill="#000" /><rect x="369" y="112" width="1" height="6" fill="#000" /><rect x="367" y="112" width="5" height="6" fill="#000" /><rect x="368" y="113" width="3" height="4" fill="#fff" /><rect x="377" y="98" width="1" height="17" fill="#000" /><rect x="375" y="109" width="5" height="5" fill="#000" /><rect x="376" y="110" width="3" height="3" fill="#fff" /><rect x="385" y="86" width="1" height="24" fill="#000" /><rect x="383" y="91" width="5" height="19" fill="#000" /><rect x="384" y="92" width="3" height="17" fill="#fff" /><rect x="393" y="66" width="1" height="28" fill="#000" /><rect x="391" y="68" width="5" height="24" fill="#000" /><rect x="392" y="69" width="3" height="22" fill="#fff" /><rect x="401" y="57" width="1" height="14" fill="#000" /><rect x="399" y="62" width="5" height="7" fill="#000" /><rect x="400" y="63" width="3" height="5" fill="#fff" /><rect x="409" y="62" width="1" height="17" fill="#000" /><rect x="407" y="62" width="5" height="15" fill="#000" /><rect x="417" y="75" width="1" height="11" fill="#000" /><rect x="415" y="78" width="5" height="5" fill="#000" /><rect x="425" y="67" width="1" height="16" fill="#000" /><rect x="423" y="68" width="5" height="15" fill="#000" /><rect x="424" y="69" width="3" height="13" fill="#fff" /><rect x="433" y="61" width="1" height="11" fill="#000" /><rect x="431" y="67" width="5" height="2" fill="#000" /><rect x="441" y="54" width="1" height="16" fill="#000" /><rect x="439" y="59" width="5" height="9" fill="#000" /><rect x="440" y="60" width="3" height="7" fill="#fff" /><rect x="449" y="55" width="1" height="13" fill="#000" /><rect x="447" y="59" width="5" height="2" fill="#000" /><rect x="457" y="55" width="1" height="12" fill="#000" /><rect x="455" y="60" width="5" height="2" fill="#000" /><rect x="465" y="57" width="1" height="5" fill="#000" /><rect x="463" y="58" width="5" height="4" fill="#000" /><rect x="464" y="59" width="3" height="2" fill="#fff" /><rect x="473" y="57" width="1" height="8" fill="#000" /><rect x="471" y="58" width="5" height="5" fill="#000" /><rect x="481" y="62" width="1" height="13" fill="#000" /><rect x="479" y="62" width="5" height="4" fill="#000" /><rect x="489" y="60" width="1" height="9" fill="#000" /><rect x="487" y="61" width="5" height="5" fill="#000" /><rect x="488" y="62" width="3" height="3" fill="#fff" /><rect x="497" y="59" width="1" height="24" fill="#000" /><rect x="495" y="61" width="5" height="16" fill="#000" /><rect x="505" y="72" width="1" height="13" fill="#000" /><rect x="503" y="75" width="5" height="5" fill="#000" /><rect x="513" y="90" width="1" height="9" fill="#000" /><rect x="511" y="90" width="5" height="6" fill="#000" /><rect x="521" y="93" width="1" height="38" fill="#000" /><rect x="519" y="95" width="5" height="28" fill="#000" /><rect x="529" y="113" width="1" height="59" fill="#000" /><rect x="527" y="122" width="5" height="37" fill="#000" /><rect x="537" y="146" width="1" height="39" fill="#000" /><rect x="535" y="157" width="5" height="20" fill="#000" /><rect x="545" y="175" width="1" height="69" fill="#000" /><rect x="543" y="176" width="5" height="57" fill="#000" /><rect x="553" y="226" width="1" height="51" fill="#000" /><rect x="551" y="232" width="5" height="6" fill="#000" /><rect x="561" y="252" width="1" height="17" fill="#000" /><rect x="559" y="252" width="5" height="6" fill="#000" /><rect x="569" y="183" width="1" height="79" fill="#000" /><rect x="567" y="186" width="5" height="71" fill="#000" /><rect x="568" y="187" width="3" height="69" fill="#fff" /><rect x="577" y="167" width="1" height="64" fill="#000" /><rect x="575" y="186" width="5" height="39" fill="#000" /><rect x="585" y="166" width="1" height="59" fill="#000" /><rect x="583" y="174" width="5" height="51" fill="#000" /><rect x="584" y="175" width="3" height="49" fill="#fff" /><rect x="593" y="174" width="1" height="46" fill="#000" /><rect x="591" y="175" width="5" height="33" fill="#000" /><rect x="601" y="203" width="1" height="50" fill="#000" /><rect x="599" y="207" width="5" height="19" fill="#000" /><rect x="609" y="267" width="1" height="11" fill="#000" /><rect x="607" y="270" width="5" height="7" fill="#000" /><rect x="617" y="271" width="1" height="63" fill="#000" /><rect x="615" y="276" width="5" height="18" fill="#000" /><rect x="625" y="260" width="1" height="64" fill="#000" /><rect x="623" y="282" width="5" height="11" fill="#000" /><rect x="624" y="283" width="3" height="9" fill="#fff" /><rect x="633" y="276" width="1" height="64" fill="#000" /><rect x="631" y="282" width="5" height="48" fill="#000" /><rect x="641" y="326" width="1" height="136" fill="#000" /><rect x="639" y="329" width="5" height="124" fill="#000" /><rect x="649" y="346" width="1" height="126" fill="#000" /><rect x="647" y="351" width="5" height="102" fill="#000" /><rect x="648" y="352" width="3" height="100" fill="#fff" /><rect x="657" y="400" width="1" height="2" fill="#000" /><rect x="655" y="400" width="5" height="2" fill="#000" /><rect x="665" y="401" width="1" height="86" fill="#000" /><rect x="663" y="401" width="5" height="59" fill="#000" /><rect x="673" y="427" width="1" height="69" fill="#000" /><rect x="671" y="459" width="5" height="20" fill="#000" /><rect x="681" y="463" width="1" height="83" fill="#000" /><rect x="679" y="478" width="5" height="2" fill="#000" /><rect x="689" y="474" width="1" height="69" fill="#000" /><rect x="687" y="479" width="5" height="28" fill="#000" /><rect x="697" y="449" width="1" height="88" fill="#000" /><rect x="695" y="507" width="5" height="27" fill="#000" /><rect x="705" y="558" width="1" height="21" fill="#000" /><rect x="703" y="572" width="5" height="7" fill="#000" /><rect x="704" y="573" width="3" height="5" fill="#fff" /><rect x="713" y="499" width="1" height="81" fill="#000" /><rect x="711" y="547" width="5" height="25" fill="#000" /><rect x="712" y="548" width="3" height="23" fill="#fff" /><rect x="721" y="446" width="1" height="106" fill="#000" /><rect x="719" y="466" width="5" height="81" fill="#000" /><rect x="720" y="467" width="3" height="79" fill="#fff" /><rect x="729" y="403" width="1" height="74" fill="#000" /><rect x="727" y="439" width="5" height="29" fill="#000" /><rect x="728" y="440" width="3" height="27" fill="#fff" /><rect x="737" y="375" width="1" height="92" fill="#000" /><rect x="735" y="375" width="5" height="66" fill="#000" /><rect x="736" y="376" width="3" height="64" fill="#fff" /><rect x="745" y="375" width="1" height="55" fill="#000" /><rect x="743" y="375" width="5" height="49" fill="#000" /><rect x="753" y="434" width="1" height="11" fill="#000" /><rect x="751" y="438" width="5" height="5" fill="#000" /><rect x="752" y="439" width="3" height="3" fill="#fff" /><rect x="761" y="387" width="1" height="54" fill="#000" /><rect x="759" y="389" width="5" height="49" fill="#000" /><rect x="760" y="390" width="3" height="47" fill="#fff" /><rect x="769" y="381" width="1" height="42" fill="#000" /><rect x="767" y="388" width="5" height="34" fill="#000" /><rect x="777" y="418" width="1" height="43" fill="#000" /><rect x="775" y="421" width="5" height="26" fill="#000" /><rect x="785" y="427" width="1" height="40" fill="#000" /><rect x="783" y="437" width="5" height="10" fill="#000" /><rect x="784" y="438" width="3" height="8" fill="#fff" /><rect x="793" y="429" width="1" height="27" fill="#000" /><rect x="791" y="437" width="5" height="10" fill="#000" /><rect x="801" y="432" width="1" height="5" fill="#000" /><rect x="799" y="433" width="5" height="3" fill="#000" /><rect x="800" y="434" width="3" height="1" fill="#fff" /><rect x="809" y="368" width="1" height="66" fill="#000" /><rect x="807" y="369" width="5" height="65" fill="#000" /><rect x="808" y="370" width="3" height="63" fill="#fff" /><rect x="817" y="331" width="1" height="54" fill="#000" /><rect x="815" y="369" width="5" height="6" fill="#000" /><rect x="825" y="333" width="1" height="55" fill="#000" /><rect x="823" y="334" width="5" height="41" fill="#000" /><rect x="824" y="335" width="3" height="39" fill="#fff" /><rect x="833" y="312" width="1" height="40" fill="#000" /><rect x="831" y="321" width="5" height="15" fill="#000" /><rect x="832" y="322" width="3" height="13" fill="#fff" /><rect x="841" y="331" width="1" height="10" fill="#000" /><rect x="839" y="333" width="5" height="6" fill="#000" /><rect x="849" y="325" width="1" height="30" fill="#000" /><rect x="847" y="335" width="5" height="3" fill="#000" /><rect x="848" y="336" width="3" height="1" fill="#fff" /><rect x="857" y="308" width="1" height="34" fill="#000" /><rect x="855" y="314" width="5" height="22" fill="#000" /><rect x="856" y="315" width="3" height="20" fill="#fff" /><rect x="865" y="314" width="1" height="35" fill="#000" /><rect x="863" y="314" width="5" height="30" fill="#000" /><rect x="873" y="292" width="1" height="58" fill="#000" /><rect x="871" y="299" width="5" height="45" fill="#000" /><rect x="872" y="300" width="3" height="43" fill="#fff" /><rect x="881" y="293" width="1" height="28" fill="#000" /><rect x="879" y="299" width="5" height="2" fill="#000" /><rect x="889" y="305" width="1" height="7" fill="#000" /><rect x="887" y="308" width="5" height="1" fill="#000" /><rect x="897" y="298" width="1" height="35" fill="#000" /><rect x="895" y="307" width="5" height="21" fill="#000" /><rect x="905" y="321" width="1" height="41" fill="#000" /><rect x="903" y="327" width="5" height="26" fill="#000" /><rect x="913" y="330" width="1" height="32" fill="#000" /><rect x="911" y="339" width="5" height="13" fill="#000" /><rect x="912" y="340" width="3" height="11" fill="#fff" /><rect x="921" y="317" width="1" height="26" fill="#000" /><rect x="919" y="339" width="5" height="2" fill="#000" /><rect x="929" y="320" width="1" height="26" fill="#000" /><rect x="927" y="323" width="5" height="18" fill="#000" /><rect x="928" y="324" width="3" height="16" fill="#fff" /><rect x="937" y="323" width="1" height="4" fill="#000" /><rect x="935" y="325" width="5" height="2" fill="#000" /><rect x="945" y="302" width="1" height="26" fill="#000" /><rect x="943" y="306" width="5" height="20" fill="#000" /><rect x="944" y="307" width="3" height="18" fill="#fff" /><rect x="953" y="287" width="1" height="26" fill="#000" /><rect x="951" y="304" width="5" height="4" fill="#000" /><rect x="952" y="305" width="3" height="2" fill="#fff" /><rect x="961" y="276" width="1" height="30" fill="#000" /><rect x="959" y="280" width="5" height="25" fill="#000" /><rect x="960" y="281" width="3" height="23" fill="#fff" /><rect x="969" y="271" width="1" height="43" fill="#000" /><rect x="967" y="280" width="5" height="26" fill="#000" /><rect x="977" y="303" width="1" height="26" fill="#000" /><rect x="975" y="305" width="5" height="20" fill="#000" /><rect x="985" y="338" width="1" height="5" fill="#000" /><rect x="983" y="339" width="5" height="2" fill="#000" /><rect x="993" y="322" width="1" height="22" fill="#000" /><rect x="991" y="323" width="5" height="18" fill="#000" /><rect x="992" y="324" width="3" height="16" fill="#fff" /><rect x="1001" y="304" width="1" height="20" fill="#000" /><rect x="999" y="315" width="5" height="9" fill="#000" /><rect x="1000" y="316" width="3" height="7" fill="#fff" /><rect x="1009" y="307" width="1" height="27" fill="#000" /><rect x="1007" y="315" width="5" height="15" fill="#000" /><rect x="1017" y="307" width="1" height="23" fill="#000" /><rect x="1015" y="309" width="5" height="21" fill="#000" /><rect x="1016" y="310" width="3" height="19" fill="#fff" /><rect x="1025" y="293" width="1" height="17" fill="#000" /><rect x="1023" y="294" width="5" height="16" fill="#000" /><rect x="1024" y="295" width="3" height="14" fill="#fff" /><rect x="1033" y="289" width="1" height="7" fill="#000" /><rect x="1031" y="289" width="5" height="6" fill="#000" /><rect x="1032" y="290" width="3" height="4" fill="#fff" /><rect x="1041" y="285" width="1" height="24" fill="#000" /><rect x="1039" y="289" width="5" height="15" fill="#000" /><rect x="1049" y="293" width="1" height="43" fill="#000" /><rect x="1047" y="303" width="5" height="32" fill="#000" /><rect x="1057" y="317" width="1" height="37" fill="#000" /><rect x="1055" y="333" width="5" height="10" fill="#000" /><rect x="1065" y="324" width="1" height="43" fill="#000" /><rect x="1063" y="325" width="5" height="18" fill="#000" /><rect x="1064" y="326" width="3" height="16" fill="#fff" /><rect x="1073" y="322" width="1" height="20" fill="#000" /><rect x="1071" y="324" width="5" height="6" fill="#000" /><rect x="1081" y="318" width="1" height="4" fill="#000" /><rect x="1079" y="320" width="5" height="1" fill="#000" /><rect x="1089" y="278" width="1" height="44" fill="#000" /><rect x="1087" y="281" width="5" height="40" fill="#000" /><rect x="1088" y="282" width="3" height="38" fill="#fff" /><rect x="1097" y="272" width="1" height="32" fill="#000" /><rect x="1095" y="281" width="5" height="17" fill="#000" /><rect x="1105" y="280" width="1" height="18" fill="#000" /><rect x="1103" y="285" width="5" height="13" fill="#000" /><rect x="1104" y="286" width="3" height="11" fill="#fff" /><rect x="1113" y="277" width="1" height="17" fill="#000" /><rect x="1111" y="285" width="5" height="1" fill="#000" /><rect x="1121" y="284" width="1" height="19" fill="#000" /><rect x="1119" y="285" width="5" height="3" fill="#000" /><rect x="1129" y="282" width="1" height="2" fill="#000" /><rect x="1127" y="282" width="5" height="2" fill="#000" /><rect x="1137" y="273" width="1" height="15" fill="#000" /><rect x="1135" y="277" width="5" height="6" fill="#000" /><rect x="1136" y="278" width="3" height="4" fill="#fff" /><rect x="1145" y="255" width="1" height="24" fill="#000" /><rect x="1143" y="262" width="5" height="16" fill="#000" /><rect x="1144" y="263" width="3" height="14" fill="#fff" /><rect x="1153" y="231" width="1" height="35" fill="#000" /><rect x="1151" y="231" width="5" height="32" fill="#000" /><rect x="1152" y="232" width="3" height="30" fill="#fff" /><rect x="1161" y="225" width="1" height="23" fill="#000" /><rect x="1159" y="232" width="5" height="15" fill="#000" /><rect x="1169" y="239" width="1" height="23" fill="#000" /><rect x="1167" y="239" width="5" height="8" fill="#000" /><rect x="1168" y="240" width="3" height="6" fill="#fff" /><rect x="1177" y="250" width="1" height="5" fill="#000" /><rect x="1175" y="250" width="5" height="3" fill="#000" /><rect x="1176" y="251" width="3" height="1" fill="#fff" /><rect x="1185" y="237" width="1" height="16" fill="#000" /><rect x="1183" y="247" width="5" height="4" fill="#000" /><rect x="1184" y="248" width="3" height="2" fill="#fff" /><rect x="1193" y="224" width="1" height="24" fill="#000" /><rect x="1191" y="224" width="5" height="23" fill="#000" /><rect x="1192" y="225" width="3" height="21" fill="#fff" /><rect x="1201" y="201" width="1" height="26" fill="#000" /><rect x="1199" y="201" width="5" height="24" fill="#000" /><rect x="1200" y="202" width="3" height="22" fill="#fff" /><rect x="1209" y="199" width="1" height="15" fill="#000" /><rect x="1207" y="201" width="5" height="5" fill="#000" /><rect x="1217" y="155" width="1" height="52" fill="#000" /><rect x="1215" y="167" width="5" height="39" fill="#000" /><rect x="1216" y="168" width="3" height="37" fill="#fff" /><rect x="1225" y="156" width="1" height="5" fill="#000" /><rect x="1223" y="158" width="5" height="3" fill="#000" /><rect x="1224" y="159" width="3" height="1" fill="#fff" /><rect x="1233" y="144" width="1" height="25" fill="#000" /><rect x="1231" y="145" width="5" height="14" fill="#000" /><rect x="1232" y="146" width="3" height="12" fill="#fff" /><rect x="1241" y="141" width="1" height="24" fill="#000" /><rect x="1239" y="145" width="5" height="10" fill="#000" /><rect x="1249" y="148" width="1" height="36" fill="#000" /><rect x="1247" y="154" width="5" height="30" fill="#000" /><rect x="1257" y="175" width="1" height="84" fill="#000" /><rect x="1255" y="181" width="5" height="65" fill="#000" /><rect x="1265" y="218" width="1" height="41" fill="#000" /><rect x="1263" y="237" width="5" height="8" fill="#000" /><rect x="1264" y="238" width="3" height="6" fill="#fff" /><rect x="1273" y="247" width="1" height="9" fill="#000" /><rect x="1271" y="248" width="5" height="4" fill="#000" /><rect x="1281" y="213" width="1" height="69" fill="#000" /><rect x="1279" y="213" width="5" height="40" fill="#000" /><rect x="1280" y="214" width="3" height="38" fill="#fff" /><rect x="1289" y="180" width="1" height="46" fill="#000" /><rect x="1287" y="204" width="5" height="10" fill="#000" /><rect x="1288" y="205" width="3" height="8" fill="#fff" /><rect x="1297" y="193" width="1" height="29" fill="#000" /><rect x="1295" y="202" width="5" height="20" fill="#000" /><rect x="1305" y="202" width="1" height="32" fill="#000" /><rect x="1303" y="212" width="5" height="11" fill="#000" /><rect x="1304" y="213" width="3" height="9" fill="#fff" /><rect x="1313" y="201" width="1" height="37" fill="#000" /><rect x="1311" y="212" width="5" height="25" fill="#000" /><rect x="1321" y="239" width="1" height="7" fill="#000" /><rect x="1319" y="240" width="5" height="1" fill="#000" /><rect x="1329" y="211" width="1" height="32" fill="#000" /><rect x="1327" y="212" width="5" height="29" fill="#000" /><rect x="1328" y="213" width="3" height="27" fill="#fff" /><rect x="1337" y="212" width="1" height="27" fill="#000" /><rect x="1335" y="213" width="5" height="5" fill="#000" /><rect x="1345" y="212" width="1" height="43" fill="#000" /><rect x="1343" y="217" width="5" height="32" fill="#000" /><rect x="1353" y="231" width="1" height="31" fill="#000" /><rect x="1351" y="236" width="5" height="12" fill="#000" /><rect x="1352" y="237" width="3" height="10" fill="#fff" /><rect x="1361" y="231" width="1" height="38" fill="#000" /><rect x="1359" y="237" width="5" height="27" fill="#000" /><rect x="1369" y="265" width="1" height="7" fill="#000" /><rect x="1367" y="267" width="5" height="2" fill="#000" /><rect x="1377" y="233" width="1" height="37" fill="#000" /><rect x="1375" y="236" width="5" height="31" fill="#000" /><rect x="1376" y="237" width="3" height="29" fill="#fff" /><rect x="1385" y="226" width="1" height="22" fill="#000" /><rect x="1383" y="234" width="5" height="3" fill="#000" /><rect x="1384" y="235" width="3" height="1" fill="#fff" /><rect x="1393" y="220" width="1" height="25" fill="#000" /><rect x="1391" y="233" width="5" height="2" fill="#000" /><rect x="1401" y="212" width="1" height="24" fill="#000" /><rect x="1399" y="227" width="5" height="9" fill="#000" /><rect x="1400" y="228" width="3" height="7" fill="#fff" /><rect x="1409" y="221" width="1" height="21" fill="#000" /><rect x="1407" y="227" width="5" height="7" fill="#000" /><rect x="1417" y="222" width="1" height="4" fill="#000" /><rect x="1415" y="223" width="5" height="3" fill="#000" /><rect x="1416" y="224" width="3" height="1" fill="#fff" /><rect x="1425" y="209" width="1" height="16" fill="#000" /><rect x="1423" y="211" width="5" height="13" fill="#000" /><rect x="1424" y="212" width="3" height="11" fill="#fff" /><rect x="1433" y="203" width="1" height="25" fill="#000" /><rect x="1431" y="206" width="5" height="20" fill="#000" /></g></g>
<g shape-rendering="crispEdges"><line x1="1372.6" y1="270.8" x2="1428" y2="210.6" stroke="#0000ff" stroke-width="3.2"/><rect x="1432" y="201" width="2" height="2" fill="#0000ff" /><rect x="1436" y="201" width="2" height="1" fill="#0000ff" /><rect x="1291" y="202" width="177" height="9" fill="#00ff00" /><path d="M1439.2 211 L1448.4 211 L1449.9 216.5 L1450.1 219.2 Q1449.6 220.8 1447.6 220.2 Z" fill="#0000ff" shape-rendering="auto"/><rect x="1514" y="206" width="8" height="1" fill="#ff0000" /><rect x="1521.5" y="204.5" width="3" height="3" fill="#fff" stroke="#ff0000" stroke-width="1"/><rect x="1524.5" y="194.5" width="73" height="24" fill="#fff" stroke="#ff0000" stroke-width="1"/></g><text x="1525.6" y="214.1" font-size="21.8" fill="#ff0000" textLength="70.4" lengthAdjust="spacingAndGlyphs">26199.8</text><text x="1433.6" y="191.3" font-size="20.3" font-weight="bold" fill="#00ff00" letter-spacing="2.75" style="font-family:'Liberation Serif','Noto Serif CJK SC',serif">多空转折点</text>
<path d="M0 33.6 L3 37.2 L0 37.2 Z" fill="#000"/><text text-rendering="geometricPrecision" transform="translate(8.4,38) scale(0.915,1)" font-size="9.85" textLength="214.2" lengthAdjust="spacing" xml:space="preserve">DJ30-,Daily  26204.0 26277.0 25739.0 25783.0</text><text text-rendering="geometricPrecision" transform="translate(-1.5,608) scale(0.915,1)" font-size="9.85" textLength="127.9" lengthAdjust="spacing">MACD(12,26,9) 74.50 15.66</text><text text-rendering="geometricPrecision" transform="translate(-1.5,766) scale(0.915,1)" font-size="9.85" textLength="73.2" lengthAdjust="spacing">RSI(14) 51.7117</text><path d="M1440.5 27 L1451 27 L1445.75 32.3 Z" fill="#c0c0c0"/>
<g shape-rendering="crispEdges"><rect x="0" y="45" width="217" height="65" fill="#fff" /><rect x="0" y="46" width="48" height="24" fill="url(#gbtn)" /><rect x="47" y="46" width="1" height="24" fill="#c00808" /><rect x="0" y="46" width="48" height="1" fill="#c00808" /><rect x="163" y="46" width="52" height="24" fill="url(#gbtn)" /><rect x="163" y="46" width="1" height="24" fill="#c00808" /><rect x="214" y="46" width="1" height="24" fill="#c00808" /><rect x="163" y="46" width="52" height="1" fill="#c00808" /><rect x="0" y="70" width="105" height="40" fill="url(#gprice)" /><rect x="107" y="70" width="108" height="40" fill="url(#gprice)" /><rect x="104" y="70" width="1" height="40" fill="#a80000" /><rect x="107" y="70" width="1" height="40" fill="#a80000" /><rect x="214" y="70" width="1" height="40" fill="#a80000" /><rect x="0" y="109" width="105" height="1" fill="#a00000" /><rect x="107" y="109" width="108" height="1" fill="#a00000" /><rect x="47" y="70" width="58" height="1" fill="#b80000" /><rect x="107" y="70" width="57" height="1" fill="#b80000" /><rect x="0" y="69" width="44" height="1" fill="#7a0000" /><rect x="167" y="69" width="44" height="1" fill="#7a0000" /><rect x="0" y="70" width="44" height="1" fill="#ff6464" /><rect x="167" y="70" width="44" height="1" fill="#ff6464" /><rect x="50.5" y="46.5" width="110" height="21" fill="#fff" stroke="#a4a8b4" stroke-width="1"/><rect x="52" y="48" width="18" height="18" fill="url(#gspin)" /><rect x="71" y="47" width="1" height="20" fill="#a4a8b4" /><rect x="141" y="48" width="18" height="18" fill="url(#gspin)" /><rect x="139" y="47" width="1" height="20" fill="#a4a8b4" /></g><path d="M58.2 55 L63.4 55 L60.8 58.2 Z" fill="#4a5fc8"/><path d="M147.4 58 L152.6 58 L150 54.8 Z" fill="#4a5fc8"/><text text-rendering="geometricPrecision" x="136" y="61" font-size="12" fill="#000" text-anchor="end">1.00</text><text text-rendering="geometricPrecision" x="8.2" y="62" font-size="12.8" fill="#fff" textLength="25.8" lengthAdjust="spacingAndGlyphs">SELL</text><text text-rendering="geometricPrecision" x="176.6" y="62" font-size="12.8" fill="#fff" textLength="23.4" lengthAdjust="spacingAndGlyphs">BUY</text><text text-rendering="geometricPrecision" x="12" y="101" font-size="12" font-weight="bold" fill="#fff" textLength="34.5" lengthAdjust="spacingAndGlyphs">25781</text><rect x="51.5" y="97" width="4" height="4" fill="#fff" rx="0.8" shape-rendering="auto"/><text text-rendering="geometricPrecision" x="58.5" y="100.6" font-size="35" fill="#fff" textLength="15.5" lengthAdjust="spacingAndGlyphs">5</text><text text-rendering="geometricPrecision" x="122" y="101" font-size="12" font-weight="bold" fill="#fff" textLength="34.5" lengthAdjust="spacingAndGlyphs">25791</text><rect x="161.5" y="97" width="4" height="4" fill="#fff" rx="0.8" shape-rendering="auto"/><text text-rendering="geometricPrecision" x="168.5" y="100.6" font-size="35" fill="#fff" textLength="15.5" lengthAdjust="spacingAndGlyphs">5</text>
<g shape-rendering="crispEdges"><rect x="1685" y="29" width="2" height="1" fill="#000" /><rect x="1685" y="62" width="2" height="1" fill="#000" /><rect x="1685" y="95" width="2" height="1" fill="#000" /><rect x="1685" y="128" width="2" height="1" fill="#000" /><rect x="1685" y="161" width="2" height="1" fill="#000" /><rect x="1685" y="194" width="2" height="1" fill="#000" /><rect x="1685" y="293" width="2" height="1" fill="#000" /><rect x="1685" y="326" width="2" height="1" fill="#000" /><rect x="1685" y="359" width="2" height="1" fill="#000" /><rect x="1685" y="392" width="2" height="1" fill="#000" /><rect x="1685" y="425" width="2" height="1" fill="#000" /><rect x="1685" y="458" width="2" height="1" fill="#000" /><rect x="1685" y="491" width="2" height="1" fill="#000" /><rect x="1685" y="524" width="2" height="1" fill="#000" /><rect x="1685" y="557" width="2" height="1" fill="#000" /><rect x="1685" y="590" width="2" height="1" fill="#000" /></g><text text-rendering="geometricPrecision" transform="translate(1690,33) scale(0.915,1)" font-size="9.85" fill="#000" text-anchor="start" font-weight="normal" >30076.0</text><text text-rendering="geometricPrecision" transform="translate(1690,66) scale(0.915,1)" font-size="9.85" fill="#000" text-anchor="start" font-weight="normal" >29366.5</text><text text-rendering="geometricPrecision" transform="translate(1690,99) scale(0.915,1)" font-size="9.85" fill="#000" text-anchor="start" font-weight="normal" >28635.5</text><text text-rendering="geometricPrecision" transform="translate(1690,132) scale(0.915,1)" font-size="9.85" fill="#000" text-anchor="start" font-weight="normal" >27904.5</text><text text-rendering="geometricPrecision" transform="translate(1690,165) scale(0.915,1)" font-size="9.85" fill="#000" text-anchor="start" font-weight="normal" >27193.0</text><text text-rendering="geometricPrecision" transform="translate(1690,198) scale(0.915,1)" font-size="9.85" fill="#000" text-anchor="start" font-weight="normal" >26464.0</text><text text-rendering="geometricPrecision" transform="translate(1690,297) scale(0.915,1)" font-size="9.85" fill="#000" text-anchor="start" font-weight="normal" >24292.5</text><text text-rendering="geometricPrecision" transform="translate(1690,330) scale(0.915,1)" font-size="9.85" fill="#000" text-anchor="start" font-weight="normal" >23583.0</text><text text-rendering="geometricPrecision" transform="translate(1690,363) scale(0.915,1)" font-size="9.85" fill="#000" text-anchor="start" font-weight="normal" >22852.0</text><text text-rendering="geometricPrecision" transform="translate(1690,396) scale(0.915,1)" font-size="9.85" fill="#000" text-anchor="start" font-weight="normal" >22121.0</text><text text-rendering="geometricPrecision" transform="translate(1690,429) scale(0.915,1)" font-size="9.85" fill="#000" text-anchor="start" font-weight="normal" >21411.5</text><text text-rendering="geometricPrecision" transform="translate(1690,462) scale(0.915,1)" font-size="9.85" fill="#000" text-anchor="start" font-weight="normal" >20680.5</text><text text-rendering="geometricPrecision" transform="translate(1690,495) scale(0.915,1)" font-size="9.85" fill="#000" text-anchor="start" font-weight="normal" >19949.5</text><text text-rendering="geometricPrecision" transform="translate(1690,528) scale(0.915,1)" font-size="9.85" fill="#000" text-anchor="start" font-weight="normal" >19240.0</text><text text-rendering="geometricPrecision" transform="translate(1690,561) scale(0.915,1)" font-size="9.85" fill="#000" text-anchor="start" font-weight="normal" >18509.0</text><text text-rendering="geometricPrecision" transform="translate(1690,594) scale(0.915,1)" font-size="9.85" fill="#000" text-anchor="start" font-weight="normal" >17799.5</text><g shape-rendering="crispEdges"><rect x="1686" y="151" width="41" height="11" fill="#ff0000" /><rect x="1686" y="174" width="41" height="11" fill="#ff0000" /><rect x="1686" y="200" width="41" height="11" fill="#32cd32" /><rect x="1686" y="220" width="41" height="11" fill="#000" /><rect x="1686" y="240" width="41" height="11" fill="#0000ff" /><rect x="1686" y="257" width="41" height="11" fill="#0000ff" /><rect x="1679.5" y="244.5" width="4" height="4" fill="#fff" stroke="#0000ff"/></g><text text-rendering="geometricPrecision" transform="translate(1690,160) scale(0.915,1)" font-size="9.85" fill="#fff" text-anchor="start" font-weight="normal" >27271.5</text><text text-rendering="geometricPrecision" transform="translate(1690,183) scale(0.915,1)" font-size="9.85" fill="#fff" text-anchor="start" font-weight="normal" >26768.5</text><text text-rendering="geometricPrecision" transform="translate(1690,209) scale(0.915,1)" font-size="9.85" fill="#fff" text-anchor="start" font-weight="normal" >26199.8</text><text text-rendering="geometricPrecision" transform="translate(1690,229) scale(0.915,1)" font-size="9.85" fill="#fff" text-anchor="start" font-weight="normal" >25783.0</text><text text-rendering="geometricPrecision" transform="translate(1690,249) scale(0.915,1)" font-size="9.85" fill="#fff" text-anchor="start" font-weight="normal" >25324.9</text><text text-rendering="geometricPrecision" transform="translate(1690,266) scale(0.915,1)" font-size="9.85" fill="#fff" text-anchor="start" font-weight="normal" >24953.0</text><g shape-rendering="crispEdges"><rect x="1685" y="597" width="2" height="1" fill="#000" /><rect x="1685" y="642" width="2" height="1" fill="#000" /><rect x="1685" y="750" width="2" height="1" fill="#000" /><rect x="1685" y="755" width="2" height="1" fill="#000" /><rect x="1685" y="926" width="2" height="1" fill="#000" /></g><text text-rendering="geometricPrecision" transform="translate(1688,606) scale(0.915,1)" font-size="9.85" fill="#000" text-anchor="start" font-weight="normal" >1024.52</text><text text-rendering="geometricPrecision" transform="translate(1688,646) scale(0.915,1)" font-size="9.85" fill="#000" text-anchor="start" font-weight="normal" >0.00</text><text text-rendering="geometricPrecision" transform="translate(1688,748) scale(0.915,1)" font-size="9.85" fill="#000" text-anchor="start" font-weight="normal" >-2433.25</text><text text-rendering="geometricPrecision" transform="translate(1688,764) scale(0.915,1)" font-size="9.85" fill="#000" text-anchor="start" font-weight="normal" >100</text><text text-rendering="geometricPrecision" transform="translate(1688,793) scale(0.915,1)" font-size="9.85" fill="#000" text-anchor="start" font-weight="normal" >80</text><text text-rendering="geometricPrecision" transform="translate(1688,844) scale(0.915,1)" font-size="9.85" fill="#000" text-anchor="start" font-weight="normal" >50</text><text text-rendering="geometricPrecision" transform="translate(1688,905) scale(0.915,1)" font-size="9.85" fill="#000" text-anchor="start" font-weight="normal" >15</text><text text-rendering="geometricPrecision" transform="translate(1688,924) scale(0.915,1)" font-size="9.85" fill="#000" text-anchor="start" font-weight="normal" >0</text>
<g shape-rendering="crispEdges"><rect x="1" y="637" width="1" height="6" fill="#c0c0c0" /><rect x="9" y="637" width="1" height="6" fill="#c0c0c0" /><rect x="17" y="637" width="1" height="6" fill="#c0c0c0" /><rect x="25" y="637" width="1" height="6" fill="#c0c0c0" /><rect x="33" y="637" width="1" height="6" fill="#c0c0c0" /><rect x="41" y="637" width="1" height="6" fill="#c0c0c0" /><rect x="49" y="637" width="1" height="6" fill="#c0c0c0" /><rect x="57" y="637" width="1" height="6" fill="#c0c0c0" /><rect x="65" y="636" width="1" height="7" fill="#c0c0c0" /><rect x="73" y="636" width="1" height="7" fill="#c0c0c0" /><rect x="81" y="635" width="1" height="8" fill="#c0c0c0" /><rect x="89" y="635" width="1" height="8" fill="#c0c0c0" /><rect x="97" y="634" width="1" height="9" fill="#c0c0c0" /><rect x="105" y="634" width="1" height="9" fill="#c0c0c0" /><rect x="113" y="634" width="1" height="9" fill="#c0c0c0" /><rect x="121" y="633" width="1" height="10" fill="#c0c0c0" /><rect x="129" y="633" width="1" height="10" fill="#c0c0c0" /><rect x="137" y="633" width="1" height="10" fill="#c0c0c0" /><rect x="145" y="633" width="1" height="10" fill="#c0c0c0" /><rect x="153" y="634" width="1" height="9" fill="#c0c0c0" /><rect x="161" y="634" width="1" height="9" fill="#c0c0c0" /><rect x="169" y="634" width="1" height="9" fill="#c0c0c0" /><rect x="177" y="636" width="1" height="7" fill="#c0c0c0" /><rect x="185" y="637" width="1" height="6" fill="#c0c0c0" /><rect x="193" y="637" width="1" height="6" fill="#c0c0c0" /><rect x="201" y="636" width="1" height="7" fill="#c0c0c0" /><rect x="209" y="636" width="1" height="7" fill="#c0c0c0" /><rect x="217" y="636" width="1" height="7" fill="#c0c0c0" /><rect x="225" y="636" width="1" height="7" fill="#c0c0c0" /><rect x="233" y="636" width="1" height="7" fill="#c0c0c0" /><rect x="241" y="636" width="1" height="7" fill="#c0c0c0" /><rect x="249" y="636" width="1" height="7" fill="#c0c0c0" /><rect x="257" y="635" width="1" height="8" fill="#c0c0c0" /><rect x="265" y="634" width="1" height="9" fill="#c0c0c0" /><rect x="273" y="633" width="1" height="10" fill="#c0c0c0" /><rect x="281" y="632" width="1" height="11" fill="#c0c0c0" /><rect x="289" y="632" width="1" height="11" fill="#c0c0c0" /><rect x="297" y="632" width="1" height="11" fill="#c0c0c0" /><rect x="305" y="632" width="1" height="11" fill="#c0c0c0" /><rect x="313" y="634" width="1" height="9" fill="#c0c0c0" /><rect x="321" y="637" width="1" height="6" fill="#c0c0c0" /><rect x="329" y="639" width="1" height="4" fill="#c0c0c0" /><rect x="337" y="640" width="1" height="3" fill="#c0c0c0" /><rect x="345" y="641" width="1" height="2" fill="#c0c0c0" /><rect x="353" y="641" width="1" height="2" fill="#c0c0c0" /><rect x="369" y="642" width="1" height="1" fill="#c0c0c0" /><rect x="377" y="642" width="1" height="2" fill="#c0c0c0" /><rect x="385" y="642" width="1" height="1" fill="#c0c0c0" /><rect x="401" y="642" width="1" height="1" fill="#c0c0c0" /><rect x="409" y="641" width="1" height="2" fill="#c0c0c0" /><rect x="417" y="641" width="1" height="2" fill="#c0c0c0" /><rect x="425" y="640" width="1" height="3" fill="#c0c0c0" /><rect x="433" y="640" width="1" height="3" fill="#c0c0c0" /><rect x="441" y="638" width="1" height="5" fill="#c0c0c0" /><rect x="449" y="637" width="1" height="6" fill="#c0c0c0" /><rect x="457" y="636" width="1" height="7" fill="#c0c0c0" /><rect x="465" y="635" width="1" height="8" fill="#c0c0c0" /><rect x="473" y="635" width="1" height="8" fill="#c0c0c0" /><rect x="481" y="636" width="1" height="7" fill="#c0c0c0" /><rect x="489" y="637" width="1" height="6" fill="#c0c0c0" /><rect x="497" y="637" width="1" height="6" fill="#c0c0c0" /><rect x="505" y="640" width="1" height="3" fill="#c0c0c0" /><rect x="513" y="642" width="1" height="1" fill="#c0c0c0" /><rect x="529" y="642" width="1" height="6" fill="#c0c0c0" /><rect x="537" y="642" width="1" height="12" fill="#c0c0c0" /><rect x="545" y="642" width="1" height="21" fill="#c0c0c0" /><rect x="553" y="642" width="1" height="28" fill="#c0c0c0" /><rect x="561" y="642" width="1" height="36" fill="#c0c0c0" /><rect x="569" y="642" width="1" height="34" fill="#c0c0c0" /><rect x="577" y="642" width="1" height="36" fill="#c0c0c0" /><rect x="585" y="642" width="1" height="34" fill="#c0c0c0" /><rect x="593" y="642" width="1" height="34" fill="#c0c0c0" /><rect x="601" y="642" width="1" height="36" fill="#c0c0c0" /><rect x="609" y="642" width="1" height="39" fill="#c0c0c0" /><rect x="617" y="642" width="1" height="43" fill="#c0c0c0" /><rect x="625" y="642" width="1" height="46" fill="#c0c0c0" /><rect x="633" y="642" width="1" height="50" fill="#c0c0c0" /><rect x="641" y="642" width="1" height="63" fill="#c0c0c0" /><rect x="649" y="642" width="1" height="64" fill="#c0c0c0" /><rect x="657" y="642" width="1" height="68" fill="#c0c0c0" /><rect x="665" y="642" width="1" height="76" fill="#c0c0c0" /><rect x="673" y="642" width="1" height="82" fill="#c0c0c0" /><rect x="681" y="642" width="1" height="86" fill="#c0c0c0" /><rect x="689" y="642" width="1" height="90" fill="#c0c0c0" /><rect x="697" y="642" width="1" height="94" fill="#c0c0c0" /><rect x="705" y="642" width="1" height="99" fill="#c0c0c0" /><rect x="713" y="642" width="1" height="101" fill="#c0c0c0" /><rect x="721" y="642" width="1" height="94" fill="#c0c0c0" /><rect x="729" y="642" width="1" height="86" fill="#c0c0c0" /><rect x="737" y="642" width="1" height="73" fill="#c0c0c0" /><rect x="745" y="642" width="1" height="66" fill="#c0c0c0" /><rect x="753" y="642" width="1" height="62" fill="#c0c0c0" /><rect x="761" y="642" width="1" height="53" fill="#c0c0c0" /><rect x="769" y="642" width="1" height="48" fill="#c0c0c0" /><rect x="777" y="642" width="1" height="46" fill="#c0c0c0" /><rect x="785" y="642" width="1" height="43" fill="#c0c0c0" /><rect x="793" y="642" width="1" height="40" fill="#c0c0c0" /><rect x="801" y="642" width="1" height="38" fill="#c0c0c0" /><rect x="809" y="642" width="1" height="30" fill="#c0c0c0" /><rect x="817" y="642" width="1" height="23" fill="#c0c0c0" /><rect x="825" y="642" width="1" height="15" fill="#c0c0c0" /><rect x="833" y="642" width="1" height="8" fill="#c0c0c0" /><rect x="841" y="642" width="1" height="3" fill="#c0c0c0" /><rect x="857" y="639" width="1" height="4" fill="#c0c0c0" /><rect x="865" y="637" width="1" height="6" fill="#c0c0c0" /><rect x="873" y="633" width="1" height="10" fill="#c0c0c0" /><rect x="881" y="629" width="1" height="14" fill="#c0c0c0" /><rect x="889" y="627" width="1" height="16" fill="#c0c0c0" /><rect x="897" y="627" width="1" height="16" fill="#c0c0c0" /><rect x="905" y="629" width="1" height="14" fill="#c0c0c0" /><rect x="913" y="631" width="1" height="12" fill="#c0c0c0" /><rect x="921" y="631" width="1" height="12" fill="#c0c0c0" /><rect x="929" y="631" width="1" height="12" fill="#c0c0c0" /><rect x="937" y="631" width="1" height="12" fill="#c0c0c0" /><rect x="945" y="630" width="1" height="13" fill="#c0c0c0" /><rect x="953" y="629" width="1" height="14" fill="#c0c0c0" /><rect x="961" y="627" width="1" height="16" fill="#c0c0c0" /><rect x="969" y="626" width="1" height="17" fill="#c0c0c0" /><rect x="977" y="629" width="1" height="14" fill="#c0c0c0" /><rect x="985" y="631" width="1" height="12" fill="#c0c0c0" /><rect x="993" y="633" width="1" height="10" fill="#c0c0c0" /><rect x="1001" y="633" width="1" height="10" fill="#c0c0c0" /><rect x="1009" y="634" width="1" height="9" fill="#c0c0c0" /><rect x="1017" y="633" width="1" height="10" fill="#c0c0c0" /><rect x="1025" y="633" width="1" height="10" fill="#c0c0c0" /><rect x="1033" y="631" width="1" height="12" fill="#c0c0c0" /><rect x="1041" y="631" width="1" height="12" fill="#c0c0c0" /><rect x="1049" y="634" width="1" height="9" fill="#c0c0c0" /><rect x="1057" y="637" width="1" height="6" fill="#c0c0c0" /><rect x="1065" y="639" width="1" height="4" fill="#c0c0c0" /><rect x="1073" y="639" width="1" height="4" fill="#c0c0c0" /><rect x="1081" y="639" width="1" height="4" fill="#c0c0c0" /><rect x="1089" y="636" width="1" height="7" fill="#c0c0c0" /><rect x="1097" y="635" width="1" height="8" fill="#c0c0c0" /><rect x="1105" y="634" width="1" height="9" fill="#c0c0c0" /><rect x="1113" y="633" width="1" height="10" fill="#c0c0c0" /><rect x="1121" y="633" width="1" height="10" fill="#c0c0c0" /><rect x="1129" y="632" width="1" height="11" fill="#c0c0c0" /><rect x="1137" y="631" width="1" height="12" fill="#c0c0c0" /><rect x="1145" y="629" width="1" height="14" fill="#c0c0c0" /><rect x="1153" y="625" width="1" height="18" fill="#c0c0c0" /><rect x="1161" y="624" width="1" height="19" fill="#c0c0c0" /><rect x="1169" y="623" width="1" height="20" fill="#c0c0c0" /><rect x="1177" y="623" width="1" height="20" fill="#c0c0c0" /><rect x="1185" y="622" width="1" height="21" fill="#c0c0c0" /><rect x="1193" y="621" width="1" height="22" fill="#c0c0c0" /><rect x="1201" y="618" width="1" height="25" fill="#c0c0c0" /><rect x="1209" y="617" width="1" height="26" fill="#c0c0c0" /><rect x="1217" y="613" width="1" height="30" fill="#c0c0c0" /><rect x="1225" y="609" width="1" height="34" fill="#c0c0c0" /><rect x="1233" y="606" width="1" height="37" fill="#c0c0c0" /><rect x="1241" y="605" width="1" height="38" fill="#c0c0c0" /><rect x="1249" y="606" width="1" height="37" fill="#c0c0c0" /><rect x="1257" y="613" width="1" height="30" fill="#c0c0c0" /><rect x="1265" y="617" width="1" height="26" fill="#c0c0c0" /><rect x="1273" y="622" width="1" height="21" fill="#c0c0c0" /><rect x="1281" y="624" width="1" height="19" fill="#c0c0c0" /><rect x="1289" y="624" width="1" height="19" fill="#c0c0c0" /><rect x="1297" y="626" width="1" height="17" fill="#c0c0c0" /><rect x="1305" y="627" width="1" height="16" fill="#c0c0c0" /><rect x="1313" y="630" width="1" height="13" fill="#c0c0c0" /><rect x="1321" y="633" width="1" height="10" fill="#c0c0c0" /><rect x="1329" y="633" width="1" height="10" fill="#c0c0c0" /><rect x="1337" y="634" width="1" height="9" fill="#c0c0c0" /><rect x="1345" y="636" width="1" height="7" fill="#c0c0c0" /><rect x="1353" y="638" width="1" height="5" fill="#c0c0c0" /><rect x="1361" y="641" width="1" height="2" fill="#c0c0c0" /><rect x="1369" y="642" width="1" height="1" fill="#c0c0c0" /><rect x="1377" y="642" width="1" height="1" fill="#c0c0c0" /><rect x="1385" y="642" width="1" height="1" fill="#c0c0c0" /><rect x="1425" y="640" width="1" height="3" fill="#c0c0c0" /><rect x="1433" y="640" width="1" height="3" fill="#c0c0c0" /><path d="M12 638h3v1h-3zM18 638h3v1h-3zM24 638h3v1h-3zM30 638h3v1h-3zM366 638h2v1h-2zM468 638h3v1h-3zM474 638h3v1h-3zM522 638h3v1h-3zM115 634h2v1h-2zM120 634h3v1h-3zM126 634h3v1h-3zM132 634h3v1h-3zM138 634h3v1h-3zM144 634h3v1h-3zM150 634h3v1h-3zM156 634h3v1h-3zM162 634h3v1h-3zM168 634h3v1h-3zM174 634h3v1h-3zM270 634h3v1h-3zM276 634h3v1h-3zM282 634h3v1h-3zM288 634h3v1h-3zM318 634h3v1h-3zM324 634h3v1h-3zM1079 634h3v1h-3zM1085 634h3v1h-3zM1091 634h2v1h-2zM1115 634h3v1h-3zM1121 634h3v1h-3zM1127 634h3v1h-3zM1368 634h2v1h-2zM390 643h3v1h-3zM396 643h3v1h-3zM881 643h2v1h-2zM6 637h2v1h-2zM36 637h3v1h-3zM42 637h3v1h-3zM48 637h3v1h-3zM54 637h3v1h-3zM60 637h3v1h-3zM66 637h3v1h-3zM354 637h3v1h-3zM360 637h3v1h-3zM480 637h3v1h-3zM486 637h3v1h-3zM516 637h3v1h-3zM893 637h2v1h-2zM1385 637h2v1h-2zM0 636h3v1h-3zM72 636h3v1h-3zM78 636h3v1h-3zM84 636h3v1h-3zM193 636h2v1h-2zM198 636h3v1h-3zM204 636h3v1h-3zM210 636h3v1h-3zM216 636h3v1h-3zM222 636h3v1h-3zM228 636h3v1h-3zM234 636h3v1h-3zM240 636h3v1h-3zM246 636h3v1h-3zM252 636h3v1h-3zM342 636h3v1h-3zM348 636h3v1h-3zM492 636h3v1h-3zM498 636h3v1h-3zM504 636h3v1h-3zM510 636h2v1h-2zM1379 636h3v1h-3zM1247 612h3v1h-3zM1283 612h3v1h-3zM1242 613h2v1h-2zM1289 613h3v1h-3zM911 631h3v1h-3zM1038 631h2v1h-2zM1043 631h3v1h-3zM1049 631h3v1h-3zM1157 631h2v1h-2zM1356 631h2v1h-2zM1175 627h3v1h-3zM1337 627h3v1h-3zM384 642h3v1h-3zM402 642h3v1h-3zM408 642h3v1h-3zM414 642h3v1h-3zM420 642h3v1h-3zM541 642h2v1h-2zM1422 642h2v1h-2zM1427 642h2v1h-2zM924 629h2v1h-2zM929 629h3v1h-3zM935 629h3v1h-3zM941 629h3v1h-3zM1013 629h3v1h-3zM1019 629h3v1h-3zM1025 629h2v1h-2zM1164 629h2v1h-2zM1349 629h2v1h-2zM294 633h3v1h-3zM300 633h3v1h-3zM306 633h3v1h-3zM312 633h3v1h-3zM905 633h2v1h-2zM1073 633h3v1h-3zM1133 633h3v1h-3zM1139 633h3v1h-3zM372 640h3v1h-3zM444 640h3v1h-3zM450 640h2v1h-2zM535 640h2v1h-2zM887 640h2v1h-2zM1403 640h3v1h-3zM1409 640h2v1h-2zM726 732h2v1h-2zM738 732h3v1h-3zM1211 621h3v1h-3zM1181 626h3v1h-3zM1331 626h3v1h-3zM1205 622h3v1h-3zM1235 615h3v1h-3zM1296 615h2v1h-2zM90 635h3v1h-3zM96 635h3v1h-3zM102 635h3v1h-3zM108 635h3v1h-3zM180 635h3v1h-3zM186 635h3v1h-3zM258 635h3v1h-3zM264 635h3v1h-3zM330 635h3v1h-3zM336 635h3v1h-3zM899 635h2v1h-2zM1097 635h3v1h-3zM1103 635h3v1h-3zM1109 635h3v1h-3zM1373 635h3v1h-3zM1199 623h3v1h-3zM1320 623h2v1h-2zM917 630h3v1h-3zM1031 630h3v1h-3zM570 659h2v1h-2zM858 659h2v1h-2zM547 645h2v1h-2zM378 641h3v1h-3zM426 641h3v1h-3zM432 641h3v1h-3zM438 641h2v1h-2zM1415 641h3v1h-3zM1223 618h3v1h-3zM1307 618h3v1h-3zM947 628h3v1h-3zM953 628h3v1h-3zM959 628h3v1h-3zM965 628h3v1h-3zM971 628h3v1h-3zM977 628h3v1h-3zM983 628h3v1h-3zM989 628h3v1h-3zM995 628h3v1h-3zM1001 628h3v1h-3zM1007 628h3v1h-3zM1169 628h3v1h-3zM1343 628h2v1h-2zM1253 611h3v1h-3zM1259 611h3v1h-3zM1271 611h3v1h-3zM1277 611h3v1h-3zM697 719h2v1h-2zM595 671h2v1h-2zM840 671h2v1h-2zM1265 610h3v1h-3zM787 705h2v1h-2zM1230 616h2v1h-2zM1301 616h2v1h-2zM1055 632h3v1h-3zM1061 632h3v1h-3zM1067 632h3v1h-3zM1145 632h3v1h-3zM1151 632h2v1h-2zM1361 632h3v1h-3zM1194 624h2v1h-2zM1325 624h2v1h-2zM1188 625h2v1h-2zM624 680h2v1h-2zM869 650h2v1h-2zM810 690h2v1h-2zM834 675h2v1h-2zM576 662h2v1h-2zM607 676h2v1h-2zM456 639h3v1h-3zM462 639h3v1h-3zM528 639h3v1h-3zM1392 639h2v1h-2zM1397 639h3v1h-3zM582 665h3v1h-3zM720 731h3v1h-3zM744 731h3v1h-3zM846 667h2v1h-2zM630 682h3v1h-3zM823 682h2v1h-2zM612 678h3v1h-3zM798 697h2v1h-2zM864 655h2v1h-2zM661 696h2v1h-2zM654 692h2v1h-2zM852 663h2v1h-2zM703 723h2v1h-2zM732 733h2v1h-2zM643 686h2v1h-2zM817 686h2v1h-2zM636 683h2v1h-2zM1217 620h2v1h-2zM1313 620h2v1h-2zM709 726h2v1h-2zM757 726h2v1h-2zM618 679h3v1h-3zM828 679h2v1h-2zM805 693h2v1h-2zM715 729h2v1h-2zM750 729h2v1h-2zM589 668h2v1h-2zM768 720h2v1h-2zM600 673h2v1h-2zM667 699h2v1h-2zM8 638h1v1h-1zM1387 638h1v1h-1zM1391 638h1v1h-1zM901 634h1v1h-1zM512 637h1v1h-1zM895 636h1v1h-1zM1153 631h1v1h-1zM883 642h1v1h-1zM1345 629h1v1h-1zM1367 633h1v1h-1zM440 640h1v1h-1zM734 732h1v1h-1zM1315 621h1v1h-1zM1187 626h1v1h-1zM1319 622h1v1h-1zM114 635h1v1h-1zM192 635h1v1h-1zM1093 635h1v1h-1zM672 701h1v1h-1zM793 701h1v1h-1zM923 630h1v1h-1zM1027 630h1v1h-1zM1037 630h1v1h-1zM1159 630h1v1h-1zM1163 630h1v1h-1zM1351 630h1v1h-1zM1355 630h1v1h-1zM877 645h1v1h-1zM540 641h1v1h-1zM1411 641h1v1h-1zM1421 641h1v1h-1zM1429 641h1v1h-1zM674 703h1v1h-1zM696 718h1v1h-1zM770 719h1v1h-1zM678 705h1v1h-1zM907 632h1v1h-1zM1193 625h1v1h-1zM1327 625h1v1h-1zM650 690h1v1h-1zM565 656h1v1h-1zM606 675h1v1h-1zM626 681h1v1h-1zM854 662h1v1h-1zM702 722h1v1h-1zM764 722h1v1h-1zM1219 619h1v1h-1zM691 714h1v1h-1zM776 714h1v1h-1zM1241 614h1v1h-1zM1295 614h1v1h-1zM368 639h1v1h-1zM452 639h1v1h-1zM534 639h1v1h-1zM889 639h1v1h-1zM602 674h1v1h-1zM836 674h1v1h-1zM588 667h1v1h-1zM692 715h1v1h-1zM775 715h1v1h-1zM756 727h1v1h-1zM830 678h1v1h-1zM686 711h1v1h-1zM780 711h1v1h-1zM666 698h1v1h-1zM1229 617h1v1h-1zM1303 617h1v1h-1zM564 655h1v1h-1zM800 696h1v1h-1zM578 663h1v1h-1zM763 723h1v1h-1zM728 733h1v1h-1zM822 683h1v1h-1zM876 646h1v1h-1zM714 728h1v1h-1zM752 728h1v1h-1zM642 685h1v1h-1zM684 709h1v1h-1zM782 709h1v1h-1zM552 647h1v1h-1zM875 647h1v1h-1zM679 706h1v1h-1zM786 706h1v1h-1zM656 693h1v1h-1zM553 648h1v1h-1zM680 707h1v1h-1zM566 657h1v1h-1zM816 687h1v1h-1zM649 689h1v1h-1zM812 689h1v1h-1zM690 713h1v1h-1zM673 702h1v1h-1zM792 702h1v1h-1zM648 688h1v1h-1zM558 651h1v1h-1zM804 694h1v1h-1zM554 649h1v1h-1zM871 649h1v1h-1zM685 710h1v1h-1zM781 710h1v1h-1zM594 670h1v1h-1zM842 670h1v1h-1zM546 644h1v1h-1zM572 660h1v1h-1zM794 700h1v1h-1zM660 695h1v1h-1zM848 666h1v1h-1zM762 724h1v1h-1zM860 658h1v1h-1zM774 716h1v1h-1zM559 652h1v1h-1zM560 653h1v1h-1zM708 725h1v1h-1zM638 684h1v1h-1zM866 654h1v1h-1z" fill="#ff0000"/></g>
<g shape-rendering="crispEdges"><line x1="0" y1="789.5" x2="1684" y2="789.5" stroke="#c0c0c0" stroke-width="1" stroke-dasharray="3 3"/><line x1="0" y1="840.5" x2="1684" y2="840.5" stroke="#c0c0c0" stroke-width="1" stroke-dasharray="3 3"/><line x1="0" y1="901.5" x2="1684" y2="901.5" stroke="#c0c0c0" stroke-width="1" stroke-dasharray="3 3"/><path d="M43 820h2v1h-2zM142 820h2v1h-2zM207 820h2v1h-2zM398 820h2v1h-2zM226 826h2v1h-2zM239 826h2v1h-2zM298 826h2v1h-2zM431 826h3v1h-3zM473 826h2v1h-2zM873 826h10v1h-10zM955 826h2v1h-2zM1131 826h4v1h-4zM504 844h2v1h-2zM1049 844h2v1h-2zM1271 844h2v1h-2zM1319 844h3v1h-3zM1348 844h2v1h-2zM623 873h2v1h-2zM659 873h2v1h-2zM171 828h2v1h-2zM183 828h3v1h-3zM217 828h4v1h-4zM425 828h2v1h-2zM477 828h3v1h-3zM483 828h4v1h-4zM831 828h3v1h-3zM854 828h2v1h-2zM887 828h3v1h-3zM944 828h10v1h-10zM1025 828h4v1h-4zM1034 828h2v1h-2zM1091 828h2v1h-2zM1104 828h13v1h-13zM1123 828h4v1h-4zM691 883h4v1h-4zM2 833h2v1h-2zM410 833h2v1h-2zM895 833h2v1h-2zM927 833h2v1h-2zM971 833h2v1h-2zM1304 833h2v1h-2zM1329 833h2v1h-2zM8 830h2v1h-2zM825 830h2v1h-2zM836 830h2v1h-2zM850 830h2v1h-2zM891 830h2v1h-2zM940 830h2v1h-2zM1037 830h2v1h-2zM1100 830h2v1h-2zM1287 830h3v1h-3zM612 875h2v1h-2zM346 845h2v1h-2zM762 845h2v1h-2zM1051 845h2v1h-2zM1346 845h2v1h-2zM815 838h3v1h-3zM909 838h3v1h-3zM978 838h2v1h-2zM992 838h2v1h-2zM1011 838h2v1h-2zM1080 838h2v1h-2zM1397 838h3v1h-3zM1403 838h4v1h-4zM1410 838h2v1h-2zM67 810h2v1h-2zM97 810h9v1h-9zM1208 810h2v1h-2zM328 854h2v1h-2zM925 834h2v1h-2zM1000 834h2v1h-2zM1301 834h3v1h-3zM1331 834h4v1h-4zM415 836h2v1h-2zM809 836h2v1h-2zM899 836h2v1h-2zM922 836h2v1h-2zM975 836h2v1h-2zM996 836h2v1h-2zM1003 836h2v1h-2zM1297 836h2v1h-2zM1414 836h2v1h-2zM767 848h2v1h-2zM905 840h2v1h-2zM981 840h2v1h-2zM988 840h2v1h-2zM1065 840h2v1h-2zM1076 840h2v1h-2zM1264 840h2v1h-2zM1377 840h4v1h-4zM1389 840h6v1h-6zM87 804h3v1h-3zM113 804h2v1h-2zM125 804h3v1h-3zM19 818h2v1h-2zM48 818h5v1h-5zM147 818h4v1h-4zM287 818h2v1h-2zM1161 818h2v1h-2zM1171 818h2v1h-2zM202 823h2v1h-2zM231 823h2v1h-2zM234 823h2v1h-2zM303 823h2v1h-2zM438 823h2v1h-2zM445 823h14v1h-14zM959 823h2v1h-2zM322 851h2v1h-2zM747 851h2v1h-2zM773 851h3v1h-3zM779 851h4v1h-4zM787 851h4v1h-4zM795 851h4v1h-4zM1361 851h4v1h-4zM65 811h2v1h-2zM257 811h2v1h-2zM271 811h4v1h-4zM361 864h4v1h-4zM569 864h2v1h-2zM600 864h2v1h-2zM25 822h12v1h-12zM137 822h3v1h-3zM394 822h2v1h-2zM440 822h5v1h-5zM459 822h4v1h-4zM466 822h2v1h-2zM1141 822h2v1h-2zM1177 822h4v1h-4zM229 824h2v1h-2zM301 824h2v1h-2zM436 824h2v1h-2zM469 824h2v1h-2zM1138 824h2v1h-2zM75 807h4v1h-4zM1202 807h2v1h-2zM263 813h4v1h-4zM279 813h3v1h-3zM45 819h3v1h-3zM144 819h3v1h-3zM400 819h2v1h-2zM237 825h2v1h-2zM434 825h2v1h-2zM471 825h2v1h-2zM1135 825h3v1h-3zM79 806h4v1h-4zM91 806h2v1h-2zM119 806h4v1h-4zM413 835h2v1h-2zM998 835h2v1h-2zM1015 835h2v1h-2zM1295 835h2v1h-2zM1299 835h2v1h-2zM1335 835h3v1h-3zM1416 835h2v1h-2zM765 847h2v1h-2zM1056 847h2v1h-2zM349 843h2v1h-2zM501 843h3v1h-3zM1061 843h2v1h-2zM1257 843h2v1h-2zM1269 843h2v1h-2zM1315 843h4v1h-4zM1350 843h2v1h-2zM221 827h5v1h-5zM427 827h4v1h-4zM475 827h2v1h-2zM487 827h3v1h-3zM856 827h2v1h-2zM883 827h4v1h-4zM1029 827h5v1h-5zM1127 827h4v1h-4zM181 829h2v1h-2zM480 829h3v1h-3zM827 829h4v1h-4zM834 829h2v1h-2zM852 829h2v1h-2zM942 829h2v1h-2zM1023 829h2v1h-2zM1102 829h2v1h-2zM1117 829h6v1h-6zM4 832h2v1h-2zM840 832h5v1h-5zM929 832h9v1h-9zM1019 832h2v1h-2zM1281 832h2v1h-2zM1291 832h2v1h-2zM653 869h2v1h-2zM1223 797h4v1h-4zM373 860h2v1h-2zM576 870h2v1h-2zM655 870h2v1h-2zM616 877h2v1h-2zM665 877h2v1h-2zM536 890h2v1h-2zM6 831h2v1h-2zM175 831h2v1h-2zM178 831h2v1h-2zM838 831h2v1h-2zM845 831h5v1h-5zM861 831h2v1h-2zM938 831h2v1h-2zM1039 831h2v1h-2zM1095 831h2v1h-2zM1098 831h2v1h-2zM1283 831h4v1h-4zM1421 831h2v1h-2zM351 842h3v1h-3zM499 842h2v1h-2zM1071 842h3v1h-3zM1259 842h2v1h-2zM1313 842h2v1h-2zM1352 842h2v1h-2zM1231 795h3v1h-3zM745 850h2v1h-2zM771 850h2v1h-2zM783 850h4v1h-4zM799 850h3v1h-3zM685 881h3v1h-3zM83 805h4v1h-4zM111 805h2v1h-2zM115 805h4v1h-4zM123 805h2v1h-2zM497 841h2v1h-2zM983 841h2v1h-2zM986 841h2v1h-2zM1067 841h4v1h-4zM1074 841h2v1h-2zM1261 841h3v1h-3zM1266 841h2v1h-2zM337 846h9v1h-9zM739 846h2v1h-2zM1053 846h3v1h-3zM59 815h2v1h-2zM283 815h2v1h-2zM610 874h2v1h-2zM621 874h2v1h-2zM811 837h4v1h-4zM912 837h10v1h-10zM994 837h2v1h-2zM1400 837h3v1h-3zM1412 837h2v1h-2zM324 852h2v1h-2zM749 852h3v1h-3zM776 852h3v1h-3zM791 852h4v1h-4zM1365 852h5v1h-5zM530 887h2v1h-2zM702 887h2v1h-2zM23 821h2v1h-2zM37 821h6v1h-6zM140 821h2v1h-2zM205 821h2v1h-2zM396 821h2v1h-2zM463 821h3v1h-3zM1143 821h2v1h-2zM1175 821h2v1h-2zM1181 821h5v1h-5zM903 839h2v1h-2zM907 839h2v1h-2zM990 839h2v1h-2zM1007 839h2v1h-2zM1078 839h2v1h-2zM1381 839h8v1h-8zM1395 839h2v1h-2zM1407 839h3v1h-3zM72 808h3v1h-3zM107 808h2v1h-2zM1204 808h2v1h-2zM695 884h3v1h-3zM709 884h2v1h-2zM69 809h3v1h-3zM95 809h2v1h-2zM1206 809h2v1h-2zM671 879h12v1h-12zM614 876h2v1h-2zM618 876h2v1h-2zM663 876h2v1h-2zM326 853h2v1h-2zM585 853h2v1h-2zM752 853h2v1h-2zM594 861h2v1h-2zM688 882h3v1h-3zM53 817h5v1h-5zM151 817h3v1h-3zM1163 817h4v1h-4zM1189 817h2v1h-2zM551 902h4v1h-4zM698 885h2v1h-2zM63 812h2v1h-2zM259 812h4v1h-4zM267 812h4v1h-4zM275 812h4v1h-4zM1219 798h4v1h-4zM1237 798h2v1h-2zM1217 799h2v1h-2zM1239 799h2v1h-2zM727 856h2v1h-2zM555 903h2v1h-2zM700 886h2v1h-2zM667 878h4v1h-4zM375 859h2v1h-2zM723 859h2v1h-2zM1167 816h3v1h-3zM649 867h3v1h-3zM547 901h4v1h-4zM370 862h2v1h-2zM596 862h2v1h-2zM365 863h5v1h-5zM598 863h2v1h-2zM534 889h2v1h-2zM743 849h2v1h-2zM769 849h2v1h-2zM683 880h2v1h-2zM128 803h2v1h-2zM160 803h2v1h-2zM545 900h2v1h-2zM1227 796h4v1h-4zM1234 796h2v1h-2zM532 888h2v1h-2zM704 888h2v1h-2zM640 892h2v1h-2zM557 904h3v1h-3zM560 905h2v1h-2zM521 872h1v1h-1zM567 871h1v6h-1zM608 872h1v1h-1zM625 872h1v1h-1zM647 872h1v3h-1zM658 872h1v1h-1zM717 870h1v3h-1zM15 819h1v2h-1zM22 820h1v1h-1zM136 820h1v2h-1zM167 819h1v3h-1zM210 820h1v1h-1zM248 820h1v1h-1zM290 820h1v1h-1zM402 820h1v2h-1zM1145 820h1v1h-1zM1174 820h1v1h-1zM1186 820h1v1h-1zM1251 820h1v4h-1zM11 826h1v2h-1zM169 825h1v2h-1zM200 826h1v3h-1zM215 826h1v1h-1zM242 826h1v1h-1zM296 826h1v1h-1zM307 825h1v2h-1zM392 825h1v2h-1zM405 825h1v2h-1zM965 826h1v2h-1zM1089 826h1v1h-1zM1252 824h1v3h-1zM192 843h1v2h-1zM194 842h1v3h-1zM317 843h1v2h-1zM348 844h1v1h-1zM354 843h1v3h-1zM383 844h1v2h-1zM737 844h1v1h-1zM761 844h1v1h-1zM804 844h1v2h-1zM1060 844h1v1h-1zM1274 843h1v2h-1zM1344 844h1v2h-1zM1355 844h1v1h-1zM1374 844h1v2h-1zM522 873h1v2h-1zM609 873h1v1h-1zM626 873h1v1h-1zM716 873h1v2h-1zM10 828h1v2h-1zM308 827h1v2h-1zM391 827h1v2h-1zM407 828h1v2h-1zM490 828h1v2h-1zM858 828h1v1h-1zM871 828h1v1h-1zM966 828h1v1h-1zM1088 827h1v2h-1zM1253 827h1v4h-1zM1425 828h1v1h-1zM527 882h1v2h-1zM565 882h1v5h-1zM635 883h1v2h-1zM644 882h1v3h-1zM711 883h1v1h-1zM188 833h1v3h-1zM198 831h1v3h-1zM311 833h1v2h-1zM388 833h1v2h-1zM421 832h1v2h-1zM492 832h1v2h-1zM822 833h1v1h-1zM864 833h1v1h-1zM866 833h1v1h-1zM1018 833h1v1h-1zM1042 833h1v2h-1zM1084 833h1v2h-1zM1254 831h1v3h-1zM1280 833h1v2h-1zM1293 833h1v1h-1zM1419 833h1v1h-1zM1429 833h1v1h-1zM174 830h1v1h-1zM180 830h1v1h-1zM186 829h1v2h-1zM199 829h1v2h-1zM309 829h1v2h-1zM390 829h1v2h-1zM408 830h1v2h-1zM423 830h1v1h-1zM491 830h1v2h-1zM860 830h1v1h-1zM869 830h1v1h-1zM968 830h1v1h-1zM1022 830h1v1h-1zM1086 830h1v2h-1zM1094 830h1v1h-1zM1423 830h1v1h-1zM1427 830h1v2h-1zM523 875h1v2h-1zM620 875h1v1h-1zM628 875h1v1h-1zM646 875h1v3h-1zM662 875h1v1h-1zM715 875h1v3h-1zM193 845h1v2h-1zM318 845h1v1h-1zM506 845h1v2h-1zM736 845h1v2h-1zM738 845h1v1h-1zM760 845h1v1h-1zM1059 845h1v1h-1zM1273 845h1v1h-1zM1356 845h1v1h-1zM190 838h1v3h-1zM196 837h1v3h-1zM314 838h1v2h-1zM386 837h1v2h-1zM495 837h1v2h-1zM808 837h1v2h-1zM902 838h1v1h-1zM1006 838h1v1h-1zM1045 838h1v1h-1zM1256 838h1v4h-1zM1277 838h1v2h-1zM1309 837h1v2h-1zM1325 838h1v2h-1zM1339 838h1v1h-1zM1433 838h1v1h-1zM132 810h1v2h-1zM157 809h1v2h-1zM164 810h1v3h-1zM1153 810h1v1h-1zM1197 810h1v1h-1zM1247 810h1v2h-1zM358 854h1v3h-1zM379 853h1v2h-1zM511 853h1v2h-1zM584 854h1v2h-1zM587 854h1v1h-1zM730 853h1v2h-1zM1 834h1v1h-1zM197 834h1v3h-1zM412 834h1v1h-1zM420 834h1v1h-1zM493 834h1v1h-1zM821 834h1v1h-1zM865 834h1v1h-1zM897 834h1v1h-1zM973 834h1v1h-1zM1017 834h1v1h-1zM1255 834h1v4h-1zM1294 834h1v1h-1zM1306 834h1v1h-1zM1328 834h1v2h-1zM1418 834h1v1h-1zM1430 834h1v1h-1zM189 836h1v2h-1zM312 835h1v2h-1zM387 835h1v2h-1zM418 836h1v1h-1zM494 835h1v2h-1zM819 836h1v1h-1zM1014 836h1v1h-1zM1044 836h1v2h-1zM1082 836h1v2h-1zM1279 835h1v2h-1zM1308 836h1v1h-1zM1327 836h1v1h-1zM1338 836h1v2h-1zM1431 835h1v2h-1zM320 848h1v2h-1zM335 848h1v1h-1zM355 846h1v3h-1zM381 848h1v3h-1zM507 847h1v2h-1zM734 848h1v1h-1zM742 848h1v1h-1zM757 848h1v2h-1zM802 848h1v2h-1zM1358 848h1v1h-1zM1372 847h1v2h-1zM195 840h1v2h-1zM315 840h1v2h-1zM385 839h1v3h-1zM496 839h1v2h-1zM807 839h1v2h-1zM1009 840h1v1h-1zM1046 839h1v2h-1zM1276 840h1v1h-1zM1311 840h1v1h-1zM1324 840h1v1h-1zM1341 840h1v2h-1zM129 804h1v1h-1zM160 804h1v1h-1zM162 804h1v3h-1zM1213 804h1v2h-1zM1243 803h1v2h-1zM16 817h1v2h-1zM135 817h1v3h-1zM166 816h1v3h-1zM250 818h1v1h-1zM1147 817h1v2h-1zM1188 818h1v1h-1zM1250 816h1v4h-1zM13 823h1v1h-1zM137 823h1v1h-1zM168 822h1v3h-1zM213 823h1v2h-1zM245 823h1v1h-1zM293 823h1v1h-1zM306 823h1v2h-1zM393 823h1v2h-1zM403 822h1v2h-1zM468 823h1v1h-1zM962 823h1v1h-1zM1140 823h1v1h-1zM332 851h1v1h-1zM356 849h1v3h-1zM380 851h1v2h-1zM509 850h1v2h-1zM732 851h1v1h-1zM755 851h1v1h-1zM1370 850h1v2h-1zM156 811h1v2h-1zM1152 811h1v1h-1zM1154 811h1v1h-1zM1196 811h1v1h-1zM517 864h1v2h-1zM580 863h1v3h-1zM720 863h1v2h-1zM14 821h1v2h-1zM204 822h1v1h-1zM212 822h1v1h-1zM233 822h1v1h-1zM246 822h1v1h-1zM292 822h1v1h-1zM305 822h1v1h-1zM961 822h1v1h-1zM12 824h1v2h-1zM201 824h1v2h-1zM236 824h1v1h-1zM244 824h1v1h-1zM294 824h1v1h-1zM404 824h1v1h-1zM958 824h1v1h-1zM963 824h1v1h-1zM93 807h1v1h-1zM109 807h1v1h-1zM131 807h1v3h-1zM158 807h1v2h-1zM163 807h1v3h-1zM1200 807h1v1h-1zM1211 807h1v1h-1zM1245 807h1v1h-1zM62 813h1v1h-1zM133 812h1v3h-1zM155 813h1v2h-1zM165 813h1v3h-1zM255 813h1v1h-1zM1151 812h1v2h-1zM1156 813h1v1h-1zM1194 813h1v1h-1zM1248 812h1v2h-1zM21 819h1v1h-1zM209 819h1v1h-1zM249 819h1v1h-1zM289 819h1v1h-1zM1146 819h1v1h-1zM1173 819h1v1h-1zM1187 819h1v1h-1zM214 825h1v1h-1zM228 825h1v1h-1zM243 825h1v1h-1zM295 825h1v1h-1zM300 825h1v1h-1zM957 825h1v1h-1zM964 825h1v1h-1zM110 806h1v1h-1zM130 805h1v2h-1zM159 805h1v2h-1zM1201 806h1v1h-1zM1212 806h1v1h-1zM1244 805h1v2h-1zM419 835h1v1h-1zM820 835h1v1h-1zM898 835h1v1h-1zM924 835h1v1h-1zM974 835h1v1h-1zM1002 835h1v1h-1zM1043 835h1v1h-1zM1083 835h1v1h-1zM1307 835h1v1h-1zM319 846h1v2h-1zM336 847h1v1h-1zM382 846h1v2h-1zM735 847h1v1h-1zM741 847h1v1h-1zM758 847h1v1h-1zM803 846h1v2h-1zM1357 846h1v2h-1zM384 842h1v2h-1zM805 843h1v1h-1zM1048 842h1v2h-1zM1322 842h1v2h-1zM1343 843h1v1h-1zM1354 843h1v1h-1zM1375 843h1v1h-1zM61 814h1v1h-1zM254 814h1v1h-1zM282 814h1v1h-1zM1150 814h1v1h-1zM1157 814h1v1h-1zM1193 814h1v1h-1zM1249 814h1v2h-1zM170 827h1v1h-1zM185 827h1v1h-1zM216 827h1v1h-1zM241 827h1v1h-1zM297 827h1v1h-1zM406 827h1v1h-1zM872 827h1v1h-1zM954 827h1v1h-1zM1090 827h1v1h-1zM173 829h1v1h-1zM424 829h1v1h-1zM859 829h1v1h-1zM870 829h1v1h-1zM890 829h1v1h-1zM967 829h1v1h-1zM1036 829h1v1h-1zM1087 829h1v1h-1zM1093 829h1v1h-1zM1424 829h1v1h-1zM1426 829h1v1h-1zM177 832h1v1h-1zM187 831h1v2h-1zM310 831h1v2h-1zM389 831h1v2h-1zM409 832h1v1h-1zM823 832h1v1h-1zM863 832h1v1h-1zM867 832h1v1h-1zM894 832h1v1h-1zM970 832h1v1h-1zM1041 832h1v1h-1zM1085 832h1v1h-1zM1097 832h1v1h-1zM1420 832h1v1h-1zM1428 832h1v1h-1zM519 868h1v2h-1zM568 866h1v5h-1zM575 869h1v1h-1zM578 868h1v2h-1zM605 868h1v2h-1zM648 868h1v4h-1zM718 868h1v2h-1zM1236 797h1v1h-1zM360 860h1v3h-1zM515 860h1v2h-1zM582 858h1v3h-1zM593 860h1v1h-1zM722 860h1v1h-1zM520 870h1v2h-1zM606 870h1v1h-1zM524 877h1v2h-1zM566 877h1v5h-1zM630 877h1v1h-1zM564 887h1v5h-1zM639 889h1v2h-1zM642 888h1v4h-1zM422 831h1v1h-1zM824 831h1v1h-1zM868 831h1v1h-1zM893 831h1v1h-1zM969 831h1v1h-1zM1021 831h1v1h-1zM1290 831h1v1h-1zM191 841h1v2h-1zM316 842h1v1h-1zM806 841h1v2h-1zM985 842h1v1h-1zM1063 842h1v1h-1zM1257 842h1v1h-1zM1268 842h1v1h-1zM1275 841h1v2h-1zM1342 842h1v1h-1zM1376 841h1v2h-1zM321 850h1v1h-1zM333 850h1v1h-1zM733 849h1v2h-1zM756 850h1v1h-1zM1360 850h1v1h-1zM526 880h1v2h-1zM634 881h1v2h-1zM645 878h1v4h-1zM713 880h1v2h-1zM90 805h1v1h-1zM353 841h1v1h-1zM1047 841h1v1h-1zM1064 841h1v1h-1zM1312 841h1v1h-1zM1323 841h1v1h-1zM759 846h1v1h-1zM764 846h1v1h-1zM1058 846h1v1h-1zM1345 846h1v1h-1zM1373 846h1v1h-1zM134 815h1v2h-1zM154 815h1v2h-1zM253 815h1v1h-1zM1149 815h1v1h-1zM1158 815h1v1h-1zM1192 815h1v1h-1zM627 874h1v1h-1zM661 874h1v1h-1zM313 837h1v1h-1zM417 837h1v1h-1zM818 837h1v1h-1zM901 837h1v1h-1zM977 837h1v1h-1zM1005 837h1v1h-1zM1013 837h1v1h-1zM1278 837h1v1h-1zM1326 837h1v1h-1zM1432 837h1v1h-1zM331 852h1v1h-1zM357 852h1v2h-1zM510 852h1v1h-1zM585 852h1v1h-1zM731 852h1v1h-1zM754 852h1v1h-1zM637 886h1v2h-1zM643 885h1v3h-1zM706 887h1v1h-1zM542 896h1v1h-1zM563 892h1v6h-1zM211 821h1v1h-1zM247 821h1v1h-1zM291 821h1v1h-1zM980 839h1v1h-1zM1010 839h1v1h-1zM1310 839h1v1h-1zM1340 839h1v1h-1zM94 808h1v1h-1zM1199 808h1v1h-1zM1210 808h1v2h-1zM1246 808h1v2h-1zM528 884h1v2h-1zM106 809h1v1h-1zM1198 809h1v1h-1zM525 879h1v1h-1zM632 879h1v1h-1zM714 878h1v2h-1zM538 891h1v1h-1zM640 891h1v1h-1zM629 876h1v1h-1zM330 853h1v1h-1zM577 871h1v1h-1zM607 871h1v1h-1zM657 871h1v1h-1zM372 861h1v1h-1zM581 861h1v2h-1zM721 861h1v2h-1zM712 882h1v1h-1zM18 817h1v1h-1zM251 817h1v1h-1zM286 817h1v1h-1zM1160 817h1v1h-1zM1170 817h1v1h-1zM562 898h1v5h-1zM359 857h1v3h-1zM377 857h1v2h-1zM514 858h1v2h-1zM591 858h1v1h-1zM725 858h1v1h-1zM636 885h1v1h-1zM708 885h1v1h-1zM256 812h1v1h-1zM1155 812h1v1h-1zM1195 812h1v1h-1zM378 855h1v2h-1zM512 855h1v2h-1zM583 856h1v2h-1zM589 856h1v1h-1zM561 903h1v2h-1zM513 857h1v1h-1zM590 857h1v1h-1zM726 857h1v1h-1zM529 886h1v1h-1zM707 886h1v1h-1zM631 878h1v1h-1zM592 859h1v1h-1zM17 816h1v1h-1zM58 816h1v1h-1zM252 816h1v1h-1zM285 816h1v1h-1zM1148 816h1v1h-1zM1159 816h1v1h-1zM1191 816h1v1h-1zM588 855h1v1h-1zM729 855h1v1h-1zM544 899h1v1h-1zM518 866h1v2h-1zM573 867h1v1h-1zM579 866h1v2h-1zM604 867h1v1h-1zM719 865h1v3h-1zM516 862h1v2h-1zM361 863h1v1h-1zM569 863h1v1h-1zM569 865h1v1h-1zM574 868h1v1h-1zM652 868h1v1h-1zM334 849h1v1h-1zM508 849h1v1h-1zM1359 849h1v1h-1zM1371 849h1v1h-1zM633 880h1v1h-1zM540 894h1v1h-1zM541 895h1v1h-1zM1216 800h1v2h-1zM1241 800h1v1h-1zM572 866h1v1h-1zM603 866h1v1h-1zM649 866h1v1h-1zM1242 801h1v2h-1zM543 897h1v2h-1zM1214 803h1v1h-1zM539 892h1v2h-1zM641 893h1v1h-1zM571 865h1v1h-1zM602 865h1v1h-1zM638 888h1v1h-1zM161 802h1v1h-1zM1215 802h1v1h-1z" fill="#1e90ff"/></g>
<g shape-rendering="crispEdges"><rect x="57" y="928" width="1" height="3" fill="#000" /><rect x="121" y="928" width="1" height="3" fill="#000" /><rect x="185" y="928" width="1" height="3" fill="#000" /><rect x="249" y="928" width="1" height="3" fill="#000" /><rect x="313" y="928" width="1" height="3" fill="#000" /><rect x="377" y="928" width="1" height="3" fill="#000" /><rect x="441" y="928" width="1" height="3" fill="#000" /><rect x="505" y="928" width="1" height="3" fill="#000" /><rect x="569" y="928" width="1" height="3" fill="#000" /><rect x="633" y="928" width="1" height="3" fill="#000" /><rect x="697" y="928" width="1" height="3" fill="#000" /><rect x="761" y="928" width="1" height="3" fill="#000" /><rect x="825" y="928" width="1" height="3" fill="#000" /><rect x="889" y="928" width="1" height="3" fill="#000" /><rect x="953" y="928" width="1" height="3" fill="#000" /><rect x="1017" y="928" width="1" height="3" fill="#000" /><rect x="1081" y="928" width="1" height="3" fill="#000" /><rect x="1145" y="928" width="1" height="3" fill="#000" /><rect x="1209" y="928" width="1" height="3" fill="#000" /><rect x="1273" y="928" width="1" height="3" fill="#000" /><rect x="1337" y="928" width="1" height="3" fill="#000" /><rect x="1401" y="928" width="1" height="3" fill="#000" /></g><text text-rendering="geometricPrecision" transform="translate(56,940) scale(0.915,1)" font-size="9.85" fill="#000" text-anchor="start" font-weight="normal" letter-spacing="0.12">18 Dec 2019</text><text text-rendering="geometricPrecision" transform="translate(120,940) scale(0.915,1)" font-size="9.85" fill="#000" text-anchor="start" font-weight="normal" letter-spacing="0.12">27 Dec 2019</text><text text-rendering="geometricPrecision" transform="translate(184,940) scale(0.915,1)" font-size="9.85" fill="#000" text-anchor="start" font-weight="normal" letter-spacing="0.12">6 Jan 2020</text><text text-rendering="geometricPrecision" transform="translate(248,940) scale(0.915,1)" font-size="9.85" fill="#000" text-anchor="start" font-weight="normal" letter-spacing="0.12">15 Jan 2020</text><text text-rendering="geometricPrecision" transform="translate(312,940) scale(0.915,1)" font-size="9.85" fill="#000" text-anchor="start" font-weight="normal" letter-spacing="0.12">24 Jan 2020</text><text text-rendering="geometricPrecision" transform="translate(376,940) scale(0.915,1)" font-size="9.85" fill="#000" text-anchor="start" font-weight="normal" letter-spacing="0.12">3 Feb 2020</text><text text-rendering="geometricPrecision" transform="translate(440,940) scale(0.915,1)" font-size="9.85" fill="#000" text-anchor="start" font-weight="normal" letter-spacing="0.12">12 Feb 2020</text><text text-rendering="geometricPrecision" transform="translate(504,940) scale(0.915,1)" font-size="9.85" fill="#000" text-anchor="start" font-weight="normal" letter-spacing="0.12">21 Feb 2020</text><text text-rendering="geometricPrecision" transform="translate(568,940) scale(0.915,1)" font-size="9.85" fill="#000" text-anchor="start" font-weight="normal" letter-spacing="0.12">2 Mar 2020</text><text text-rendering="geometricPrecision" transform="translate(632,940) scale(0.915,1)" font-size="9.85" fill="#000" text-anchor="start" font-weight="normal" letter-spacing="0.12">11 Mar 2020</text><text text-rendering="geometricPrecision" transform="translate(696,940) scale(0.915,1)" font-size="9.85" fill="#000" text-anchor="start" font-weight="normal" letter-spacing="0.12">20 Mar 2020</text><text text-rendering="geometricPrecision" transform="translate(760,940) scale(0.915,1)" font-size="9.85" fill="#000" text-anchor="start" font-weight="normal" letter-spacing="0.12">30 Mar 2020</text><text text-rendering="geometricPrecision" transform="translate(824,940) scale(0.915,1)" font-size="9.85" fill="#000" text-anchor="start" font-weight="normal" letter-spacing="0.12">8 Apr 2020</text><text text-rendering="geometricPrecision" transform="translate(888,940) scale(0.915,1)" font-size="9.85" fill="#000" text-anchor="start" font-weight="normal" letter-spacing="0.12">19 Apr 2020</text><text text-rendering="geometricPrecision" transform="translate(952,940) scale(0.915,1)" font-size="9.85" fill="#000" text-anchor="start" font-weight="normal" letter-spacing="0.12">28 Apr 2020</text><text text-rendering="geometricPrecision" transform="translate(1016,940) scale(0.915,1)" font-size="9.85" fill="#000" text-anchor="start" font-weight="normal" letter-spacing="0.12">7 May 2020</text><text text-rendering="geometricPrecision" transform="translate(1080,940) scale(0.915,1)" font-size="9.85" fill="#000" text-anchor="start" font-weight="normal" letter-spacing="0.12">17 May 2020</text><text text-rendering="geometricPrecision" transform="translate(1144,940) scale(0.915,1)" font-size="9.85" fill="#000" text-anchor="start" font-weight="normal" letter-spacing="0.12">26 May 2020</text><text text-rendering="geometricPrecision" transform="translate(1208,940) scale(0.915,1)" font-size="9.85" fill="#000" text-anchor="start" font-weight="normal" letter-spacing="0.12">4 Jun 2020</text><text text-rendering="geometricPrecision" transform="translate(1272,940) scale(0.915,1)" font-size="9.85" fill="#000" text-anchor="start" font-weight="normal" letter-spacing="0.12">14 Jun 2020</text><text text-rendering="geometricPrecision" transform="translate(1336,940) scale(0.915,1)" font-size="9.85" fill="#000" text-anchor="start" font-weight="normal" letter-spacing="0.12">23 Jun 2020</text><text text-rendering="geometricPrecision" transform="translate(1400,940) scale(0.915,1)" font-size="9.85" fill="#000" text-anchor="start" font-weight="normal" letter-spacing="0.12">2 Jul 2020</text><text text-rendering="geometricPrecision" transform="translate(-7,940) scale(0.915,1)" font-size="9.85" fill="#000" text-anchor="start" font-weight="normal" >9 Dec 2019</text>
<g shape-rendering="crispEdges"><rect x="0" y="0" width="1731" height="22" fill="#f0f0f0"/><rect x="0" y="21" width="1731" height="1" fill="#dcdcdc"/><rect x="0" y="22" width="1731" height="1" fill="#a6a6a6"/><rect x="0" y="23" width="1731" height="1" fill="#6e6e6e"/><rect x="0" y="24" width="1731" height="2" fill="#fff"/></g><defs><pattern id="chk" width="2" height="2" patternUnits="userSpaceOnUse"><rect width="2" height="2" fill="#f8f8f8"/><rect width="1" height="1" fill="#efefef"/><rect x="1" y="1" width="1" height="1" fill="#efefef"/></pattern><radialGradient id="gplus" cx="0.5" cy="0.45" r="0.6"><stop offset="0" stop-color="#6cff7a"/><stop offset="0.55" stop-color="#1cdc38"/><stop offset="1" stop-color="#08b824"/></radialGradient><linearGradient id="ggold" x1="0.2" y1="0" x2="0.8" y2="1"><stop offset="0" stop-color="#f0b818"/><stop offset="0.35" stop-color="#ffe660"/><stop offset="0.7" stop-color="#f0c020"/><stop offset="1" stop-color="#d89c10"/></linearGradient><linearGradient id="gblue" x1="0" y1="0" x2="0" y2="1"><stop offset="0" stop-color="#58b0ff"/><stop offset="1" stop-color="#1468d8"/></linearGradient><linearGradient id="gcloud" x1="0" y1="0" x2="0" y2="1"><stop offset="0" stop-color="#ffffff"/><stop offset="0.45" stop-color="#f4f6fa"/><stop offset="1" stop-color="#aebcd8"/></linearGradient></defs><g shape-rendering="crispEdges"><rect x="-3" y="3.5" width="10" height="13" fill="#fff" stroke="#2f78c4" stroke-width="1"/><rect x="0" y="5" width="6" height="1" fill="#cfe0ff"/><rect x="0" y="7" width="6" height="1" fill="#cfe0ff"/><rect x="0" y="9" width="6" height="1" fill="#cfe0ff"/><rect x="0" y="11" width="6" height="1" fill="#cfe0ff"/></g><rect x="20.8" y="2.7" width="11.6" height="12.8" rx="1.2" fill="#fbfbfb" stroke="#b3aa98" stroke-width="1"/><path d="M23.3 4.5 V9 M22.3 8 H23.3 M23.3 5.5 H24.6 M29.8 4.5 V7 M29.8 5.5 H31" stroke="#303030" stroke-width="1" fill="none"/><line x1="33" y1="15" x2="37.2" y2="19" stroke="#b8901a" stroke-width="3.4"/><line x1="33.2" y1="15" x2="37" y2="18.6" stroke="#e8c030" stroke-width="1.6"/><circle cx="28.4" cy="11.2" r="4.9" fill="#dcf0fa" stroke="#5c9ae2" stroke-width="1.2"/><rect x="26.6" y="8.3" width="1.5" height="4.2" fill="#9aa8b4"/><rect x="28.4" y="8.8" width="1.5" height="4" fill="#8a98a8"/><rect x="45" y="0" width="1" height="20" fill="#9a9a9a" shape-rendering="crispEdges"/><path d="M56.6 2.6 H63.6 L66.6 5.6 V15.2 H56.6 Z" fill="#fcfcfc" stroke="#5a5a5a" stroke-width="1" stroke-linejoin="round"/><path d="M63.6 2.6 V5.6 H66.6" fill="none" stroke="#5a5a5a" stroke-width="0.9"/><path d="M57.6 5 H60.4 M57.6 8.6 H62 M57.6 10.6 H62 M57.6 12.6 H60" stroke="#8a8a8a" stroke-width="1"/><path d="M63.35 8.6 H66.65 V12.45 H70.5 V15.75 H66.65 V19.6 H63.35 V15.75 H59.5 V12.45 H63.35 Z" fill="url(#gplus)" stroke="#0c941c" stroke-width="0.8" stroke-linejoin="miter"/><text x="73.4" y="13.4" font-size="12" fill="#000" style="font-family:'Liberation Sans','Noto Sans CJK SC',sans-serif">新订单</text><path d="M127.6 3 L137.3 9.3 L137.9 11.8 L130 17.8 L122 11.8 L125.4 8.6 L126.9 5.6 Z" fill="#b07a10" stroke="#9a6408" stroke-width="0.8" stroke-linejoin="round"/><path d="M127.9 4 L136.6 9.7 L129.6 15.6 L123.2 11.4 L126 8.8 L127.3 6 Z" fill="url(#ggold)"/><path d="M136.9 10.2 L137.4 11.7 L130 17.2 L129.7 15.9 Z" fill="#ead9a0"/><path d="M123 11.9 L129.7 16.3" stroke="#ffe98a" stroke-width="0.9" fill="none"/><path d="M122.6 12.6 L129.8 17.3" stroke="#c8900c" stroke-width="0.8" fill="none"/><path d="M151.9 2.4 L160 2.1 L163 4.5 V10.6 H151.9 Z" fill="#1c96f4"/><path d="M151.9 2.4 L160 2.1 L163 4.5 L155.2 5.1 Z" fill="#52c0ff"/><path d="M151.9 2.4 L155.2 5.1 V10.6 H151.9 Z" fill="#0aa2fa"/><path d="M155.2 5.1 V10.6 M151.9 2.4 L155.2 5.1 L163 4.5" stroke="#bfe6ff" stroke-width="0.7" fill="none"/><path d="M157 7.4 L161.3 7" stroke="#f0f8ff" stroke-width="1.1"/><path d="M153 17.7 C149.4 17.7 149.2 13.3 152.6 13 C152.8 10.6 156 10.2 157 11.6 C158.2 9.4 162 9.6 162.6 12.2 C166.6 11.6 167.4 17.7 163.4 17.7 Z" fill="url(#gcloud)" stroke="#3c5c9c" stroke-width="1.1" stroke-linejoin="round"/><circle cx="186.1" cy="10" r="7.8" fill="none" stroke="#9ab4e8" stroke-width="1" opacity="0.8"/><circle cx="186.1" cy="10" r="5.4" fill="none" stroke="#5a80dc" stroke-width="1.2"/><path d="M186.1 2.2 A7.8 7.8 0 0 1 186.1 17.8 Z" fill="#6aa86a" opacity="0.55"/><circle cx="186.1" cy="10" r="2.8" fill="none" stroke="#3a62d4" stroke-width="1.2"/><circle cx="186.1" cy="10" r="1.5" fill="#2a52cc"/><path d="M186.4 10 V17.8" stroke="#18a018" stroke-width="1.4"/><path d="M206 8.6 H220.6 L213.6 17.6 Z" fill="#f6d42a" stroke="#c8a010" stroke-width="0.8" stroke-linejoin="round"/><ellipse cx="213.2" cy="7" rx="8" ry="2.6" fill="#4a9fe0" stroke="#2a78b8" stroke-width="0.7"/><ellipse cx="213.2" cy="5" rx="4.3" ry="2.8" fill="#5ab0ec" stroke="#2a78b8" stroke-width="0.6"/><circle cx="217.7" cy="13.6" r="4" fill="#e01808" stroke="#b01000" stroke-width="0.6"/><rect x="216.2" y="12.1" width="3" height="3" fill="#fff"/><text x="226.3" y="13.4" font-size="12" fill="#000" style="font-family:'Liberation Sans','Noto Sans CJK SC',sans-serif">自动交易</text><g shape-rendering="crispEdges"><rect x="281" y="0" width="1" height="22" fill="#8e8e8e"/><rect x="282" y="0" width="1" height="22" fill="#ffffff"/></g><g shape-rendering="crispEdges"><rect x="285" y="0" width="3" height="1" fill="#a0a0a0"/><rect x="285" y="2" width="3" height="1" fill="#a0a0a0"/><rect x="285" y="4" width="3" height="1" fill="#a0a0a0"/><rect x="285" y="6" width="3" height="1" fill="#a0a0a0"/><rect x="285" y="8" width="3" height="1" fill="#a0a0a0"/><rect x="285" y="10" width="3" height="1" fill="#a0a0a0"/><rect x="285" y="12" width="3" height="1" fill="#a0a0a0"/><rect x="285" y="14" width="3" height="1" fill="#a0a0a0"/><rect x="285" y="16" width="3" height="1" fill="#a0a0a0"/><rect x="285" y="18" width="3" height="1" fill="#a0a0a0"/></g><path d="M299.4 5 V17.6 M297 15.7 H309.6" stroke="#454545" stroke-width="1.15" fill="none"/><path d="M297.5 6.5 L299.4 4.1 L301.29999999999995 6.5 Z" fill="#454545"/><path d="M308.3 13.8 L310.7 15.7 L308.3 17.6 Z" fill="#454545"/><path d="M305.6 5.4 V13.4 M305.6 6.3 H308 M303.2 12.3 H305.6" stroke="#078a07" stroke-width="1.5" fill="none"/><rect x="319" y="0" width="1" height="20" fill="#9a9a9a" shape-rendering="crispEdges"/><rect x="320" y="0" width="25" height="20" fill="url(#chk)" shape-rendering="crispEdges"/><path d="M327.59999999999997 5 V17.6 M325.2 15.7 H337.8" stroke="#454545" stroke-width="1.15" fill="none"/><path d="M325.7 6.5 L327.59999999999997 4.1 L329.49999999999994 6.5 Z" fill="#454545"/><path d="M336.5 13.8 L338.9 15.7 L336.5 17.6 Z" fill="#454545"/><path d="M333.5 2.2 V13.8" stroke="#078a07" stroke-width="1.4"/><rect x="331.4" y="4.5" width="4.2" height="7.4" fill="#3ddc3d" stroke="#078a07" stroke-width="0.9"/><path d="M355.4 5 V17.6 M353 15.7 H365.6" stroke="#454545" stroke-width="1.15" fill="none"/><path d="M353.5 6.5 L355.4 4.1 L357.29999999999995 6.5 Z" fill="#454545"/><path d="M364.3 13.8 L366.7 15.7 L364.3 17.6 Z" fill="#454545"/><path d="M354.4 12.6 C357 11 358.6 7.4 360.4 7.4 C362.2 7.4 363.6 10.2 365.8 11.2" stroke="#1a8a1a" stroke-width="1.2" fill="none"/><rect x="376" y="0" width="1" height="20" fill="#9a9a9a" shape-rendering="crispEdges"/><line x1="395" y1="12.6" x2="399.6" y2="16.8" stroke="#b8901a" stroke-width="3.6" stroke-linecap="butt"/><line x1="395.2" y1="12.6" x2="399.4" y2="16.5" stroke="#f0d040" stroke-width="1.8"/><circle cx="391" cy="8" r="5.6" fill="#d8effb" stroke="#3f8ad8" stroke-width="1.3"/><path d="M387.7 8 H394.3" stroke="#3a86b8" stroke-width="2"/><path d="M391 4.7 V11.3" stroke="#3a86b8" stroke-width="2"/><line x1="423.2" y1="12.6" x2="427.8" y2="16.8" stroke="#b8901a" stroke-width="3.6" stroke-linecap="butt"/><line x1="423.4" y1="12.6" x2="427.59999999999997" y2="16.5" stroke="#f0d040" stroke-width="1.8"/><circle cx="419.2" cy="8" r="5.6" fill="#d8effb" stroke="#3f8ad8" stroke-width="1.3"/><path d="M415.9 8 H422.5" stroke="#3a86b8" stroke-width="2"/><rect x="441" y="2" width="7.8" height="7.8" fill="#3c9a22"/><rect x="442.2" y="4.8" width="5.4" height="4" fill="#ffffff"/><rect x="443" y="6.2" width="3.8" height="1" fill="#58b83a" opacity="0.4"/><rect x="442" y="3" width="1" height="1" fill="#e8f0e8"/><rect x="449.2" y="2" width="7.8" height="7.8" fill="#1c48c8"/><rect x="450.4" y="4.8" width="5.4" height="4" fill="#ffffff"/><rect x="451.2" y="6.2" width="3.8" height="1" fill="#3a6ee8" opacity="0.4"/><rect x="450.2" y="3" width="1" height="1" fill="#e8f0e8"/><rect x="441" y="10.2" width="7.8" height="7.8" fill="#1c48c8"/><rect x="442.2" y="13.0" width="5.4" height="4" fill="#ffffff"/><rect x="443" y="14.399999999999999" width="3.8" height="1" fill="#3a6ee8" opacity="0.4"/><rect x="442" y="11.2" width="1" height="1" fill="#e8f0e8"/><rect x="449.2" y="10.2" width="7.8" height="7.8" fill="#3c9a22"/><rect x="450.4" y="13.0" width="5.4" height="4" fill="#ffffff"/><rect x="451.2" y="14.399999999999999" width="3.8" height="1" fill="#58b83a" opacity="0.4"/><rect x="450.2" y="11.2" width="1" height="1" fill="#e8f0e8"/><rect x="466" y="0" width="1" height="20" fill="#9a9a9a" shape-rendering="crispEdges"/><rect x="471" y="0" width="1" height="20" fill="#9a9a9a" shape-rendering="crispEdges"/><rect x="472" y="0" width="24" height="20" fill="url(#chk)" shape-rendering="crispEdges"/><path d="M479.4 5 V17.6 M477 15.7 H489.6" stroke="#454545" stroke-width="1.15" fill="none"/><path d="M477.5 6.5 L479.4 4.1 L481.29999999999995 6.5 Z" fill="#454545"/><path d="M488.3 13.8 L490.7 15.7 L488.3 17.6 Z" fill="#454545"/><path d="M484 6 V12.6 L487.8 9.3 Z" fill="#30d048" stroke="#0a8a1a" stroke-width="0.9" stroke-linejoin="round"/><rect x="499" y="0" width="1" height="20" fill="#9a9a9a" shape-rendering="crispEdges"/><rect x="500" y="0" width="24" height="20" fill="url(#chk)" shape-rendering="crispEdges"/><path d="M507.4 5 V17.6 M505 15.7 H517.6" stroke="#454545" stroke-width="1.15" fill="none"/><path d="M505.5 6.5 L507.4 4.1 L509.29999999999995 6.5 Z" fill="#454545"/><path d="M516.3 13.8 L518.7 15.7 L516.3 17.6 Z" fill="#454545"/><path d="M513.4 4 V13.8" stroke="#2474b4" stroke-width="1.5"/><path d="M514.4 9.6 L517 7.4 V8.9 H519 V10.3 H517 V11.8 Z" fill="#e04808"/><rect x="528" y="0" width="1" height="20" fill="#9a9a9a" shape-rendering="crispEdges"/><path d="M538.8 2.8 H546.4 L549.4 5.8 V15.4 H538.8 Z" fill="#fcfcfc" stroke="#6a6a6a" stroke-width="1" stroke-linejoin="round"/><path d="M546.4 2.8 V5.8 H549.4" fill="none" stroke="#6a6a6a" stroke-width="0.9"/><path d="M544.6 5 C542.6 4.6 542.4 6 542.4 7.6 V12.6 M541 8.4 H544.2" stroke="#5a4a2a" stroke-width="1" fill="none"/><path d="M546.45 8.4 H549.75 V12.25 H553.6 V15.55 H549.75 V19.4 H546.45 V15.55 H542.6 V12.25 H546.45 Z" fill="url(#gplus)" stroke="#0c941c" stroke-width="0.8" stroke-linejoin="miter"/><path d="M559.8 9 L565.4 9 L562.5999999999999 12.3 Z" fill="#000"/><circle cx="584" cy="10" r="6.9" fill="#f2f2f4" stroke="#1a62d8" stroke-width="2.2"/><circle cx="584" cy="10" r="7.9" fill="none" stroke="#0e3c9c" stroke-width="0.5"/><path d="M584 10 V6 M584 10 H587" stroke="#303030" stroke-width="1.2" fill="none"/><path d="M584 4.6 V5.4 M584 14.6 V15.4 M578.6 10 H579.4 M588.6 10 H589.4" stroke="#808080" stroke-width="0.8"/><path d="M599 9 L604.6 9 L601.8 12.3 Z" fill="#000"/><rect x="615.6" y="3.4" width="15.2" height="13" fill="#fff" stroke="#2f6fc0" stroke-width="1.2"/><rect x="616" y="3.6" width="14.4" height="2.6" fill="#5a9ae6"/><rect x="616" y="10.8" width="14.4" height="1" fill="#3a7ad0"/><path d="M617.4 9.4 H619.2 L621.4 7.8 H622.6 L624 8.6 H626 L627.6 7.4 H629" stroke="#a82800" stroke-width="1.1" fill="none"/><path d="M618 14.4 H619.6 L621 13.4 L622.6 14.4 H623.6 L625.6 12.4 L626.6 12.4 L628.6 14.4" stroke="#0a8a0a" stroke-width="1.1" fill="none"/><path d="M637.8 9 L643.4 9 L640.5999999999999 12.3 Z" fill="#000"/><g shape-rendering="crispEdges"><rect x="649" y="0" width="1" height="22" fill="#8e8e8e"/><rect x="650" y="0" width="1" height="22" fill="#ffffff"/></g><g shape-rendering="crispEdges"><rect x="653" y="0" width="3" height="1" fill="#a0a0a0"/><rect x="653" y="2" width="3" height="1" fill="#a0a0a0"/><rect x="653" y="4" width="3" height="1" fill="#a0a0a0"/><rect x="653" y="6" width="3" height="1" fill="#a0a0a0"/><rect x="653" y="8" width="3" height="1" fill="#a0a0a0"/><rect x="653" y="10" width="3" height="1" fill="#a0a0a0"/><rect x="653" y="12" width="3" height="1" fill="#a0a0a0"/><rect x="653" y="14" width="3" height="1" fill="#a0a0a0"/><rect x="653" y="16" width="3" height="1" fill="#a0a0a0"/><rect x="653" y="18" width="3" height="1" fill="#a0a0a0"/></g><rect x="659" y="0" width="1" height="20" fill="#9a9a9a" shape-rendering="crispEdges"/><rect x="660" y="0" width="25" height="20" fill="url(#chk)" shape-rendering="crispEdges"/><path d="M667.1 3 V13.7 L669.8 11.3 L672.2 16.8 L674.2 15.9 L671.8 10.9 L675.2 10.6 Z" fill="#4c4c4c"/><path d="M692 10.4 H698.4 M700.6 10.4 H707 M699.5 3 V9.3 M699.5 11.5 V18" stroke="#505050" stroke-width="1.2" fill="none"/><rect x="699" y="9.9" width="1" height="1" fill="#505050"/><rect x="716" y="0" width="1" height="20" fill="#9a9a9a" shape-rendering="crispEdges"/><path d="M733.4 3.9 V16.9 M756 10.4 H768 M783.7 16.9 L796.2 4.8" stroke="#4c4c4c" stroke-width="1.2" fill="none"/><path d="M810 12.4 L818 4.3 M811.8 16.2 L823.5 7.8" stroke="#4c4c4c" stroke-width="1.1" fill="none"/><path d="M812.4 10 L813.6 14.8 M814.6 8 L816 13 M816.8 5.6 L818.4 11.2 M819.2 3.4 L820.8 9.4 M821.4 3 L822.4 7.4" stroke="#4c4c4c" stroke-width="0.8" fill="none"/><text x="820.6" y="18.8" font-size="7" font-weight="bold" fill="#303030">E</text><g shape-rendering="crispEdges"><rect x="839" y="3" width="1" height="1" fill="#505050"/><rect x="841" y="3" width="1" height="1" fill="#505050"/><rect x="843" y="3" width="1" height="1" fill="#505050"/><rect x="845" y="3" width="1" height="1" fill="#505050"/><rect x="847" y="3" width="1" height="1" fill="#505050"/><rect x="849" y="3" width="1" height="1" fill="#505050"/><rect x="851" y="3" width="1" height="1" fill="#505050"/><rect x="839" y="6" width="1" height="1" fill="#505050"/><rect x="841" y="6" width="1" height="1" fill="#505050"/><rect x="843" y="6" width="1" height="1" fill="#505050"/><rect x="845" y="6" width="1" height="1" fill="#505050"/><rect x="847" y="6" width="1" height="1" fill="#505050"/><rect x="849" y="6" width="1" height="1" fill="#505050"/><rect x="851" y="6" width="1" height="1" fill="#505050"/><rect x="839" y="10" width="1" height="1" fill="#505050"/><rect x="841" y="10" width="1" height="1" fill="#505050"/><rect x="843" y="10" width="1" height="1" fill="#505050"/><rect x="845" y="10" width="1" height="1" fill="#505050"/><rect x="847" y="10" width="1" height="1" fill="#505050"/><rect x="849" y="10" width="1" height="1" fill="#505050"/><rect x="851" y="10" width="1" height="1" fill="#505050"/><rect x="839" y="14" width="1" height="1" fill="#505050"/><rect x="841" y="14" width="1" height="1" fill="#505050"/><rect x="843" y="14" width="1" height="1" fill="#505050"/><rect x="845" y="14" width="1" height="1" fill="#505050"/><rect x="847" y="14" width="1" height="1" fill="#505050"/></g><text x="848.4" y="18.8" font-size="7" font-weight="bold" fill="#303030">F</text><text x="869.2" y="14.8" font-size="12.4" fill="#585858" font-weight="bold" textLength="8.6" lengthAdjust="spacingAndGlyphs">A</text><rect x="896.6" y="4.4" width="10.6" height="11.8" fill="none" stroke="#4c4c4c" stroke-width="1" stroke-dasharray="1 1" shape-rendering="crispEdges"/><path d="M898 7.6 H905.8 M901.9 7.6 V14.8" stroke="#555" stroke-width="1.5" fill="none"/><path d="M926.9 3.6 L930 6.8 L926.9 9 L923.8 6.8 Z" fill="#4c4c4c"/><path d="M933.4 16.6 L930.2 13.6 L933.4 11.4 L936.6 13.6 Z" fill="#4c4c4c"/><path d="M926.4 10.4 L928.6 12.6 L932.4 7.6" stroke="#4c4c4c" stroke-width="1.2" fill="none"/><path d="M943.8 8.8 L949.4 8.8 L946.5999999999999 12.100000000000001 Z" fill="#000"/><g shape-rendering="crispEdges"><rect x="955" y="0" width="1" height="22" fill="#8e8e8e"/><rect x="956" y="0" width="1" height="22" fill="#ffffff"/></g><g shape-rendering="crispEdges"><rect x="959" y="0" width="3" height="1" fill="#a0a0a0"/><rect x="959" y="2" width="3" height="1" fill="#a0a0a0"/><rect x="959" y="4" width="3" height="1" fill="#a0a0a0"/><rect x="959" y="6" width="3" height="1" fill="#a0a0a0"/><rect x="959" y="8" width="3" height="1" fill="#a0a0a0"/><rect x="959" y="10" width="3" height="1" fill="#a0a0a0"/><rect x="959" y="12" width="3" height="1" fill="#a0a0a0"/><rect x="959" y="14" width="3" height="1" fill="#a0a0a0"/><rect x="959" y="16" width="3" height="1" fill="#a0a0a0"/><rect x="959" y="18" width="3" height="1" fill="#a0a0a0"/></g><text text-rendering="geometricPrecision" transform="translate(970.5,14) scale(0.94,1)" font-size="9.85" fill="#484848">M1</text><text text-rendering="geometricPrecision" transform="translate(998,14) scale(0.94,1)" font-size="9.85" fill="#484848">M5</text><text text-rendering="geometricPrecision" transform="translate(1024,14) scale(0.94,1)" font-size="9.85" fill="#484848">M15</text><text text-rendering="geometricPrecision" transform="translate(1052,14) scale(0.94,1)" font-size="9.85" fill="#484848">M30</text><text text-rendering="geometricPrecision" transform="translate(1083,14) scale(0.94,1)" font-size="9.85" fill="#484848">H1</text><text text-rendering="geometricPrecision" transform="translate(1110.5,14) scale(0.94,1)" font-size="9.85" fill="#484848">H4</text><rect x="1134" y="0" width="1" height="20" fill="#9a9a9a" shape-rendering="crispEdges"/><rect x="1135" y="0" width="24" height="20" fill="url(#chk)" shape-rendering="crispEdges"/><text text-rendering="geometricPrecision" transform="translate(1139.5,14) scale(0.94,1)" font-size="9.85" fill="#484848">D1</text><text text-rendering="geometricPrecision" transform="translate(1167,14) scale(0.94,1)" font-size="9.85" fill="#484848">W1</text><text text-rendering="geometricPrecision" transform="translate(1193.5,14) scale(0.94,1)" font-size="9.85" fill="#484848">MN</text><rect x="1216" y="0" width="1" height="20" fill="#9a9a9a" shape-rendering="crispEdges"/><line x1="1683.4" y1="10.8" x2="1679.3" y2="14.8" stroke="#2458d8" stroke-width="2.6" stroke-linecap="round"/><circle cx="1686.7" cy="7.4" r="3.9" fill="#f4f6ff" stroke="#2458d8" stroke-width="1.3"/><path d="M1722.4 11.2 L1723.2 13.8 L1720 11.5 Z" fill="#707070"/><ellipse cx="1719.1" cy="6.8" rx="6.5" ry="4.7" fill="#eeeef4" stroke="#9a9a9a" stroke-width="0.9"/><path d="M1707.6 14 L1707.4 16.6 L1710 14.6 Z" fill="#707070"/><ellipse cx="1710.2" cy="11.1" rx="4.9" ry="3.7" fill="#eeeef4" stroke="#9a9a9a" stroke-width="0.9"/>
<g shape-rendering="crispEdges"><rect x="1730" y="24" width="1" height="920" fill="#e6e6e6" /></g>
</svg></body></html>
